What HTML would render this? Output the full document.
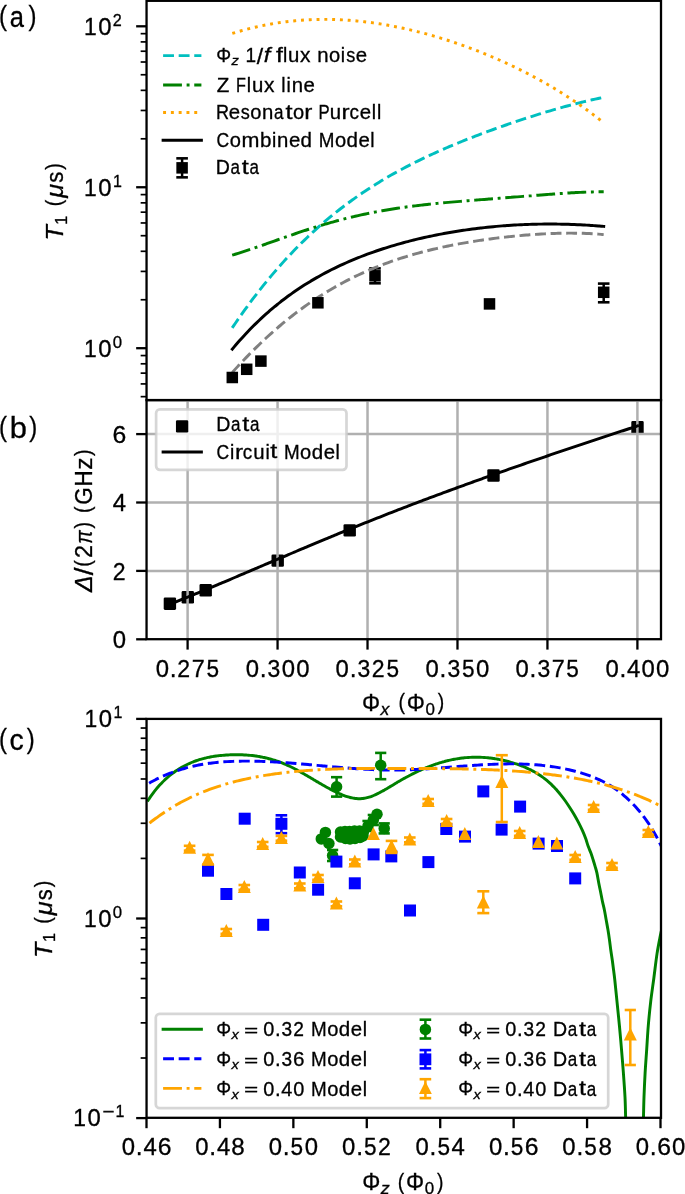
<!DOCTYPE html>
<html><head><meta charset="utf-8"><style>
html,body{margin:0;padding:0;background:#fff;overflow:hidden;}
svg{display:block;}
text{font-family:"Liberation Sans", sans-serif;fill:#000;}
</style></head><body>
<svg width="685" height="1194" viewBox="0 0 685 1194">
<rect width="685" height="1194" fill="#fff"/>
<line x1="375" y1="268.4" x2="375" y2="283.3" stroke="#000" stroke-width="2.5" stroke-linecap="butt"/>
<line x1="369.2" y1="268.4" x2="380.8" y2="268.4" stroke="#000" stroke-width="2.6" stroke-linecap="butt"/>
<line x1="369.2" y1="283.3" x2="380.8" y2="283.3" stroke="#000" stroke-width="2.6" stroke-linecap="butt"/>
<rect x="369.25" y="270.05" width="11.5" height="11.5" fill="#000"/>
<line x1="603.7" y1="283.6" x2="603.7" y2="302.3" stroke="#000" stroke-width="2.5" stroke-linecap="butt"/>
<line x1="597.9" y1="283.6" x2="609.5" y2="283.6" stroke="#000" stroke-width="2.6" stroke-linecap="butt"/>
<line x1="597.9" y1="302.3" x2="609.5" y2="302.3" stroke="#000" stroke-width="2.6" stroke-linecap="butt"/>
<rect x="597.95" y="286.55" width="11.5" height="11.5" fill="#000"/>
<path d="M232.2,327.9 C232.7,327.16 234.2,324.94 235.2,323.48 C236.2,322.02 237.2,320.57 238.2,319.13 C239.2,317.69 240.2,316.27 241.2,314.85 C242.2,313.44 243.2,312.04 244.2,310.65 C245.2,309.26 246.2,307.88 247.2,306.52 C248.2,305.15 249.2,303.8 250.2,302.45 C251.2,301.11 252.2,299.78 253.2,298.46 C254.2,297.14 255.2,295.83 256.2,294.53 C257.2,293.23 258.2,291.95 259.2,290.67 C260.2,289.4 261.2,288.13 262.2,286.88 C263.2,285.63 264.2,284.38 265.2,283.15 C266.2,281.92 267.2,280.7 268.2,279.49 C269.2,278.28 270.2,277.08 271.2,275.89 C272.2,274.7 273.2,273.53 274.2,272.36 C275.2,271.19 276.2,270.03 277.2,268.89 C278.2,267.74 279.2,266.61 280.2,265.48 C281.2,264.35 282.2,263.24 283.2,262.13 C284.2,261.03 285.2,259.93 286.2,258.84 C287.2,257.76 288.2,256.68 289.2,255.62 C290.2,254.55 291.2,253.49 292.2,252.45 C293.2,251.4 294.2,250.36 295.2,249.34 C296.2,248.31 297.2,247.29 298.2,246.28 C299.2,245.27 300.2,244.27 301.2,243.28 C302.2,242.29 303.2,241.31 304.2,240.34 C305.2,239.37 306.2,238.41 307.2,237.45 C308.2,236.5 309.2,235.55 310.2,234.62 C311.2,233.68 312.2,232.75 313.2,231.84 C314.2,230.92 315.2,230.01 316.2,229.1 C317.2,228.2 318.2,227.31 319.2,226.43 C320.2,225.54 321.2,224.66 322.2,223.8 C323.2,222.93 324.2,222.07 325.2,221.22 C326.2,220.36 327.2,219.52 328.2,218.68 C329.2,217.85 330.2,217.02 331.2,216.2 C332.2,215.38 333.2,214.57 334.2,213.76 C335.2,212.95 336.2,212.16 337.2,211.37 C338.2,210.58 339.2,209.79 340.2,209.02 C341.2,208.24 342.2,207.48 343.2,206.71 C344.2,205.95 345.2,205.2 346.2,204.45 C347.2,203.71 348.2,202.97 349.2,202.23 C350.2,201.5 351.2,200.77 352.2,200.06 C353.2,199.34 354.2,198.62 355.2,197.92 C356.2,197.21 357.2,196.51 358.2,195.82 C359.2,195.13 360.2,194.44 361.2,193.76 C362.2,193.08 363.2,192.4 364.2,191.74 C365.2,191.07 366.2,190.41 367.2,189.75 C368.2,189.09 369.2,188.45 370.2,187.8 C371.2,187.16 372.2,186.52 373.2,185.89 C374.2,185.25 375.2,184.63 376.2,184.01 C377.2,183.39 378.2,182.77 379.2,182.16 C380.2,181.55 381.2,180.94 382.2,180.35 C383.2,179.75 384.2,179.15 385.2,178.56 C386.2,177.97 387.2,177.39 388.2,176.81 C389.2,176.23 390.2,175.66 391.2,175.09 C392.2,174.52 393.2,173.96 394.2,173.4 C395.2,172.84 396.2,172.28 397.2,171.73 C398.2,171.18 399.2,170.64 400.2,170.1 C401.2,169.56 402.2,169.02 403.2,168.49 C404.2,167.96 405.2,167.43 406.2,166.91 C407.2,166.38 408.2,165.86 409.2,165.35 C410.2,164.83 411.2,164.32 412.2,163.82 C413.2,163.31 414.2,162.81 415.2,162.31 C416.2,161.81 417.2,161.31 418.2,160.82 C419.2,160.33 420.2,159.84 421.2,159.36 C422.2,158.88 423.2,158.4 424.2,157.92 C425.2,157.44 426.2,156.97 427.2,156.5 C428.2,156.03 429.2,155.56 430.2,155.1 C431.2,154.64 432.2,154.18 433.2,153.72 C434.2,153.27 435.2,152.81 436.2,152.36 C437.2,151.91 438.2,151.46 439.2,151.02 C440.2,150.58 441.2,150.14 442.2,149.7 C443.2,149.26 444.2,148.83 445.2,148.39 C446.2,147.96 447.2,147.53 448.2,147.1 C449.2,146.68 450.2,146.25 451.2,145.83 C452.2,145.41 453.2,144.99 454.2,144.58 C455.2,144.16 456.2,143.75 457.2,143.34 C458.2,142.93 459.2,142.52 460.2,142.11 C461.2,141.71 462.2,141.3 463.2,140.9 C464.2,140.5 465.2,140.1 466.2,139.7 C467.2,139.31 468.2,138.91 469.2,138.52 C470.2,138.13 471.2,137.74 472.2,137.35 C473.2,136.96 474.2,136.58 475.2,136.19 C476.2,135.81 477.2,135.43 478.2,135.05 C479.2,134.67 480.2,134.29 481.2,133.91 C482.2,133.54 483.2,133.16 484.2,132.79 C485.2,132.42 486.2,132.05 487.2,131.68 C488.2,131.32 489.2,130.95 490.2,130.58 C491.2,130.22 492.2,129.86 493.2,129.5 C494.2,129.14 495.2,128.78 496.2,128.42 C497.2,128.06 498.2,127.71 499.2,127.35 C500.2,127 501.2,126.65 502.2,126.3 C503.2,125.95 504.2,125.6 505.2,125.25 C506.2,124.91 507.2,124.56 508.2,124.22 C509.2,123.87 510.2,123.53 511.2,123.19 C512.2,122.85 513.2,122.51 514.2,122.18 C515.2,121.84 516.2,121.5 517.2,121.17 C518.2,120.84 519.2,120.51 520.2,120.18 C521.2,119.85 522.2,119.52 523.2,119.19 C524.2,118.86 525.2,118.54 526.2,118.21 C527.2,117.89 528.2,117.57 529.2,117.25 C530.2,116.93 531.2,116.61 532.2,116.29 C533.2,115.98 534.2,115.66 535.2,115.35 C536.2,115.04 537.2,114.72 538.2,114.41 C539.2,114.1 540.2,113.8 541.2,113.49 C542.2,113.18 543.2,112.88 544.2,112.58 C545.2,112.28 546.2,111.97 547.2,111.68 C548.2,111.38 549.2,111.08 550.2,110.79 C551.2,110.49 552.2,110.2 553.2,109.91 C554.2,109.62 555.2,109.33 556.2,109.04 C557.2,108.76 558.2,108.47 559.2,108.19 C560.2,107.91 561.2,107.63 562.2,107.35 C563.2,107.07 564.2,106.8 565.2,106.52 C566.2,106.25 567.2,105.98 568.2,105.71 C569.2,105.44 570.2,105.18 571.2,104.91 C572.2,104.65 573.2,104.39 574.2,104.13 C575.2,103.87 576.2,103.62 577.2,103.36 C578.2,103.11 579.2,102.86 580.2,102.61 C581.2,102.37 582.2,102.12 583.2,101.88 C584.2,101.64 585.2,101.4 586.2,101.16 C587.2,100.93 588.2,100.7 589.2,100.47 C590.2,100.24 591.2,100.01 592.2,99.79 C593.2,99.57 594.2,99.35 595.2,99.13 C596.2,98.92 597.2,98.71 598.2,98.5 C599.2,98.29 600.27,98.07 601.2,97.89 C602.13,97.7 603.37,97.46 603.8,97.37" fill="none" stroke="#00bfbf" stroke-width="2.94" stroke-dasharray="10.88,4.7" stroke-linecap="butt" stroke-linejoin="round"/>
<path d="M232.2,255.15 C232.7,255.01 234.2,254.56 235.2,254.26 C236.2,253.96 237.2,253.65 238.2,253.34 C239.2,253.03 240.2,252.72 241.2,252.4 C242.2,252.08 243.2,251.76 244.2,251.44 C245.2,251.11 246.2,250.78 247.2,250.45 C248.2,250.12 249.2,249.78 250.2,249.45 C251.2,249.11 252.2,248.77 253.2,248.43 C254.2,248.09 255.2,247.75 256.2,247.4 C257.2,247.06 258.2,246.71 259.2,246.36 C260.2,246.01 261.2,245.66 262.2,245.31 C263.2,244.96 264.2,244.61 265.2,244.26 C266.2,243.91 267.2,243.55 268.2,243.2 C269.2,242.85 270.2,242.49 271.2,242.14 C272.2,241.78 273.2,241.43 274.2,241.07 C275.2,240.72 276.2,240.37 277.2,240.01 C278.2,239.66 279.2,239.31 280.2,238.95 C281.2,238.6 282.2,238.25 283.2,237.9 C284.2,237.55 285.2,237.2 286.2,236.85 C287.2,236.5 288.2,236.15 289.2,235.8 C290.2,235.46 291.2,235.11 292.2,234.77 C293.2,234.42 294.2,234.08 295.2,233.74 C296.2,233.4 297.2,233.06 298.2,232.72 C299.2,232.39 300.2,232.05 301.2,231.72 C302.2,231.38 303.2,231.05 304.2,230.72 C305.2,230.39 306.2,230.07 307.2,229.74 C308.2,229.42 309.2,229.09 310.2,228.77 C311.2,228.45 312.2,228.13 313.2,227.82 C314.2,227.5 315.2,227.19 316.2,226.88 C317.2,226.57 318.2,226.26 319.2,225.96 C320.2,225.65 321.2,225.35 322.2,225.05 C323.2,224.75 324.2,224.46 325.2,224.16 C326.2,223.87 327.2,223.58 328.2,223.29 C329.2,223 330.2,222.72 331.2,222.44 C332.2,222.15 333.2,221.87 334.2,221.6 C335.2,221.32 336.2,221.05 337.2,220.78 C338.2,220.51 339.2,220.24 340.2,219.98 C341.2,219.72 342.2,219.46 343.2,219.2 C344.2,218.94 345.2,218.69 346.2,218.44 C347.2,218.19 348.2,217.94 349.2,217.69 C350.2,217.45 351.2,217.21 352.2,216.97 C353.2,216.73 354.2,216.5 355.2,216.26 C356.2,216.03 357.2,215.8 358.2,215.58 C359.2,215.35 360.2,215.13 361.2,214.91 C362.2,214.69 363.2,214.47 364.2,214.26 C365.2,214.05 366.2,213.84 367.2,213.63 C368.2,213.42 369.2,213.22 370.2,213.02 C371.2,212.82 372.2,212.62 373.2,212.43 C374.2,212.23 375.2,212.04 376.2,211.85 C377.2,211.66 378.2,211.48 379.2,211.29 C380.2,211.11 381.2,210.93 382.2,210.75 C383.2,210.58 384.2,210.4 385.2,210.23 C386.2,210.06 387.2,209.89 388.2,209.72 C389.2,209.56 390.2,209.39 391.2,209.23 C392.2,209.07 393.2,208.91 394.2,208.76 C395.2,208.6 396.2,208.45 397.2,208.3 C398.2,208.15 399.2,208 400.2,207.85 C401.2,207.71 402.2,207.57 403.2,207.42 C404.2,207.28 405.2,207.15 406.2,207.01 C407.2,206.87 408.2,206.74 409.2,206.61 C410.2,206.48 411.2,206.35 412.2,206.22 C413.2,206.09 414.2,205.97 415.2,205.84 C416.2,205.72 417.2,205.6 418.2,205.48 C419.2,205.36 420.2,205.24 421.2,205.13 C422.2,205.01 423.2,204.9 424.2,204.78 C425.2,204.67 426.2,204.56 427.2,204.45 C428.2,204.34 429.2,204.24 430.2,204.13 C431.2,204.03 432.2,203.92 433.2,203.82 C434.2,203.72 435.2,203.61 436.2,203.52 C437.2,203.42 438.2,203.32 439.2,203.22 C440.2,203.12 441.2,203.03 442.2,202.93 C443.2,202.84 444.2,202.74 445.2,202.65 C446.2,202.56 447.2,202.47 448.2,202.38 C449.2,202.29 450.2,202.2 451.2,202.11 C452.2,202.02 453.2,201.93 454.2,201.85 C455.2,201.76 456.2,201.67 457.2,201.59 C458.2,201.5 459.2,201.42 460.2,201.34 C461.2,201.25 462.2,201.17 463.2,201.09 C464.2,201 465.2,200.92 466.2,200.84 C467.2,200.76 468.2,200.68 469.2,200.6 C470.2,200.52 471.2,200.44 472.2,200.36 C473.2,200.28 474.2,200.2 475.2,200.12 C476.2,200.04 477.2,199.96 478.2,199.88 C479.2,199.8 480.2,199.73 481.2,199.65 C482.2,199.57 483.2,199.49 484.2,199.41 C485.2,199.34 486.2,199.26 487.2,199.18 C488.2,199.1 489.2,199.03 490.2,198.95 C491.2,198.87 492.2,198.79 493.2,198.72 C494.2,198.64 495.2,198.56 496.2,198.49 C497.2,198.41 498.2,198.33 499.2,198.25 C500.2,198.18 501.2,198.1 502.2,198.02 C503.2,197.94 504.2,197.86 505.2,197.79 C506.2,197.71 507.2,197.63 508.2,197.55 C509.2,197.48 510.2,197.4 511.2,197.32 C512.2,197.24 513.2,197.16 514.2,197.08 C515.2,197.01 516.2,196.93 517.2,196.85 C518.2,196.77 519.2,196.69 520.2,196.61 C521.2,196.53 522.2,196.45 523.2,196.38 C524.2,196.3 525.2,196.22 526.2,196.14 C527.2,196.06 528.2,195.98 529.2,195.9 C530.2,195.82 531.2,195.74 532.2,195.66 C533.2,195.59 534.2,195.51 535.2,195.43 C536.2,195.35 537.2,195.27 538.2,195.19 C539.2,195.12 540.2,195.04 541.2,194.96 C542.2,194.88 543.2,194.8 544.2,194.73 C545.2,194.65 546.2,194.57 547.2,194.5 C548.2,194.42 549.2,194.35 550.2,194.27 C551.2,194.2 552.2,194.12 553.2,194.05 C554.2,193.98 555.2,193.9 556.2,193.83 C557.2,193.76 558.2,193.69 559.2,193.62 C560.2,193.55 561.2,193.48 562.2,193.41 C563.2,193.34 564.2,193.28 565.2,193.21 C566.2,193.14 567.2,193.08 568.2,193.02 C569.2,192.96 570.2,192.89 571.2,192.83 C572.2,192.78 573.2,192.72 574.2,192.66 C575.2,192.61 576.2,192.55 577.2,192.5 C578.2,192.45 579.2,192.4 580.2,192.35 C581.2,192.3 582.2,192.26 583.2,192.22 C584.2,192.17 585.2,192.13 586.2,192.1 C587.2,192.06 588.2,192.03 589.2,191.99 C590.2,191.96 591.2,191.94 592.2,191.91 C593.2,191.89 594.2,191.87 595.2,191.85 C596.2,191.83 597.2,191.82 598.2,191.81 C599.2,191.8 600.28,191.79 601.2,191.79 C602.12,191.79 603.28,191.79 603.7,191.79" fill="none" stroke="#008000" stroke-width="2.94" stroke-dasharray="18.82,4.7,2.94,4.7" stroke-linecap="butt" stroke-linejoin="round"/>
<path d="M232.3,33.44 C232.8,33.29 234.3,32.82 235.3,32.52 C236.3,32.22 237.3,31.93 238.3,31.63 C239.3,31.34 240.3,31.06 241.3,30.78 C242.3,30.5 243.3,30.22 244.3,29.95 C245.3,29.68 246.3,29.42 247.3,29.16 C248.3,28.9 249.3,28.65 250.3,28.4 C251.3,28.15 252.3,27.91 253.3,27.67 C254.3,27.43 255.3,27.2 256.3,26.97 C257.3,26.74 258.3,26.52 259.3,26.3 C260.3,26.09 261.3,25.87 262.3,25.67 C263.3,25.46 264.3,25.26 265.3,25.06 C266.3,24.87 267.3,24.68 268.3,24.49 C269.3,24.31 270.3,24.13 271.3,23.95 C272.3,23.77 273.3,23.6 274.3,23.44 C275.3,23.27 276.3,23.12 277.3,22.96 C278.3,22.81 279.3,22.66 280.3,22.51 C281.3,22.37 282.3,22.23 283.3,22.09 C284.3,21.96 285.3,21.83 286.3,21.71 C287.3,21.58 288.3,21.46 289.3,21.35 C290.3,21.24 291.3,21.13 292.3,21.02 C293.3,20.92 294.3,20.82 295.3,20.73 C296.3,20.63 297.3,20.54 298.3,20.46 C299.3,20.38 300.3,20.3 301.3,20.22 C302.3,20.15 303.3,20.08 304.3,20.02 C305.3,19.95 306.3,19.89 307.3,19.84 C308.3,19.78 309.3,19.73 310.3,19.69 C311.3,19.65 312.3,19.61 313.3,19.57 C314.3,19.53 315.3,19.5 316.3,19.48 C317.3,19.45 318.3,19.43 319.3,19.42 C320.3,19.4 321.3,19.39 322.3,19.38 C323.3,19.38 324.3,19.37 325.3,19.38 C326.3,19.38 327.3,19.39 328.3,19.4 C329.3,19.41 330.3,19.43 331.3,19.45 C332.3,19.47 333.3,19.49 334.3,19.52 C335.3,19.55 336.3,19.59 337.3,19.63 C338.3,19.67 339.3,19.71 340.3,19.76 C341.3,19.8 342.3,19.86 343.3,19.91 C344.3,19.97 345.3,20.03 346.3,20.1 C347.3,20.16 348.3,20.23 349.3,20.31 C350.3,20.38 351.3,20.46 352.3,20.54 C353.3,20.63 354.3,20.71 355.3,20.8 C356.3,20.9 357.3,20.99 358.3,21.09 C359.3,21.19 360.3,21.3 361.3,21.4 C362.3,21.51 363.3,21.62 364.3,21.74 C365.3,21.86 366.3,21.98 367.3,22.1 C368.3,22.23 369.3,22.36 370.3,22.49 C371.3,22.62 372.3,22.76 373.3,22.9 C374.3,23.04 375.3,23.19 376.3,23.34 C377.3,23.48 378.3,23.64 379.3,23.79 C380.3,23.95 381.3,24.11 382.3,24.28 C383.3,24.44 384.3,24.61 385.3,24.78 C386.3,24.96 387.3,25.13 388.3,25.31 C389.3,25.49 390.3,25.68 391.3,25.86 C392.3,26.05 393.3,26.24 394.3,26.44 C395.3,26.63 396.3,26.83 397.3,27.04 C398.3,27.24 399.3,27.45 400.3,27.66 C401.3,27.87 402.3,28.08 403.3,28.3 C404.3,28.52 405.3,28.74 406.3,28.96 C407.3,29.19 408.3,29.42 409.3,29.65 C410.3,29.88 411.3,30.12 412.3,30.36 C413.3,30.6 414.3,30.84 415.3,31.09 C416.3,31.33 417.3,31.59 418.3,31.84 C419.3,32.09 420.3,32.35 421.3,32.61 C422.3,32.87 423.3,33.14 424.3,33.41 C425.3,33.67 426.3,33.95 427.3,34.22 C428.3,34.5 429.3,34.77 430.3,35.06 C431.3,35.34 432.3,35.62 433.3,35.91 C434.3,36.2 435.3,36.49 436.3,36.79 C437.3,37.09 438.3,37.39 439.3,37.69 C440.3,37.99 441.3,38.3 442.3,38.61 C443.3,38.92 444.3,39.23 445.3,39.55 C446.3,39.86 447.3,40.18 448.3,40.51 C449.3,40.83 450.3,41.16 451.3,41.49 C452.3,41.82 453.3,42.15 454.3,42.49 C455.3,42.82 456.3,43.17 457.3,43.51 C458.3,43.85 459.3,44.2 460.3,44.55 C461.3,44.9 462.3,45.26 463.3,45.61 C464.3,45.97 465.3,46.33 466.3,46.7 C467.3,47.06 468.3,47.43 469.3,47.8 C470.3,48.17 471.3,48.55 472.3,48.92 C473.3,49.3 474.3,49.68 475.3,50.07 C476.3,50.45 477.3,50.84 478.3,51.24 C479.3,51.63 480.3,52.02 481.3,52.42 C482.3,52.82 483.3,53.22 484.3,53.63 C485.3,54.04 486.3,54.45 487.3,54.86 C488.3,55.27 489.3,55.69 490.3,56.11 C491.3,56.53 492.3,56.96 493.3,57.38 C494.3,57.81 495.3,58.24 496.3,58.68 C497.3,59.11 498.3,59.55 499.3,59.99 C500.3,60.44 501.3,60.88 502.3,61.33 C503.3,61.78 504.3,62.24 505.3,62.69 C506.3,63.15 507.3,63.61 508.3,64.08 C509.3,64.54 510.3,65.01 511.3,65.48 C512.3,65.96 513.3,66.43 514.3,66.92 C515.3,67.4 516.3,67.88 517.3,68.37 C518.3,68.86 519.3,69.35 520.3,69.85 C521.3,70.34 522.3,70.85 523.3,71.35 C524.3,71.86 525.3,72.36 526.3,72.88 C527.3,73.39 528.3,73.91 529.3,74.43 C530.3,74.95 531.3,75.48 532.3,76.01 C533.3,76.54 534.3,77.08 535.3,77.62 C536.3,78.16 537.3,78.7 538.3,79.25 C539.3,79.8 540.3,80.35 541.3,80.91 C542.3,81.46 543.3,82.03 544.3,82.59 C545.3,83.16 546.3,83.73 547.3,84.31 C548.3,84.89 549.3,85.47 550.3,86.05 C551.3,86.64 552.3,87.23 553.3,87.83 C554.3,88.42 555.3,89.03 556.3,89.63 C557.3,90.24 558.3,90.85 559.3,91.47 C560.3,92.08 561.3,92.71 562.3,93.33 C563.3,93.96 564.3,94.59 565.3,95.23 C566.3,95.87 567.3,96.52 568.3,97.17 C569.3,97.82 570.3,98.47 571.3,99.13 C572.3,99.79 573.3,100.46 574.3,101.13 C575.3,101.81 576.3,102.48 577.3,103.17 C578.3,103.85 579.3,104.54 580.3,105.24 C581.3,105.94 582.3,106.64 583.3,107.35 C584.3,108.06 585.3,108.78 586.3,109.5 C587.3,110.22 588.3,110.95 589.3,111.69 C590.3,112.42 591.3,113.16 592.3,113.91 C593.3,114.66 594.3,115.42 595.3,116.18 C596.3,116.95 597.3,117.72 598.3,118.49 C599.3,119.27 600.4,120.14 601.3,120.85 C602.2,121.56 603.3,122.44 603.7,122.76" fill="none" stroke="#ffa500" stroke-width="2.94" stroke-dasharray="2.94,4.85" stroke-linecap="butt" stroke-linejoin="round"/>
<path d="M232.3,349.08 C232.8,348.49 234.3,346.69 235.3,345.52 C236.3,344.35 237.3,343.2 238.3,342.06 C239.3,340.92 240.3,339.79 241.3,338.68 C242.3,337.57 243.3,336.48 244.3,335.4 C245.3,334.32 246.3,333.25 247.3,332.2 C248.3,331.15 249.3,330.11 250.3,329.08 C251.3,328.06 252.3,327.05 253.3,326.05 C254.3,325.05 255.3,324.07 256.3,323.1 C257.3,322.13 258.3,321.17 259.3,320.22 C260.3,319.27 261.3,318.34 262.3,317.42 C263.3,316.5 264.3,315.59 265.3,314.69 C266.3,313.8 267.3,312.91 268.3,312.04 C269.3,311.17 270.3,310.3 271.3,309.45 C272.3,308.6 273.3,307.76 274.3,306.94 C275.3,306.11 276.3,305.29 277.3,304.49 C278.3,303.68 279.3,302.88 280.3,302.1 C281.3,301.31 282.3,300.54 283.3,299.77 C284.3,299.01 285.3,298.25 286.3,297.51 C287.3,296.76 288.3,296.03 289.3,295.3 C290.3,294.58 291.3,293.86 292.3,293.16 C293.3,292.45 294.3,291.75 295.3,291.07 C296.3,290.38 297.3,289.7 298.3,289.03 C299.3,288.36 300.3,287.7 301.3,287.04 C302.3,286.39 303.3,285.75 304.3,285.11 C305.3,284.48 306.3,283.85 307.3,283.23 C308.3,282.61 309.3,282 310.3,281.4 C311.3,280.79 312.3,280.2 313.3,279.61 C314.3,279.02 315.3,278.44 316.3,277.87 C317.3,277.3 318.3,276.73 319.3,276.17 C320.3,275.61 321.3,275.06 322.3,274.52 C323.3,273.98 324.3,273.44 325.3,272.91 C326.3,272.38 327.3,271.86 328.3,271.34 C329.3,270.82 330.3,270.31 331.3,269.81 C332.3,269.31 333.3,268.81 334.3,268.32 C335.3,267.83 336.3,267.35 337.3,266.87 C338.3,266.39 339.3,265.92 340.3,265.45 C341.3,264.99 342.3,264.53 343.3,264.07 C344.3,263.62 345.3,263.17 346.3,262.73 C347.3,262.29 348.3,261.85 349.3,261.42 C350.3,260.99 351.3,260.56 352.3,260.14 C353.3,259.72 354.3,259.3 355.3,258.89 C356.3,258.48 357.3,258.08 358.3,257.68 C359.3,257.28 360.3,256.88 361.3,256.5 C362.3,256.11 363.3,255.72 364.3,255.34 C365.3,254.96 366.3,254.59 367.3,254.22 C368.3,253.85 369.3,253.48 370.3,253.12 C371.3,252.76 372.3,252.4 373.3,252.05 C374.3,251.7 375.3,251.35 376.3,251.01 C377.3,250.67 378.3,250.33 379.3,249.99 C380.3,249.66 381.3,249.33 382.3,249 C383.3,248.68 384.3,248.36 385.3,248.04 C386.3,247.72 387.3,247.41 388.3,247.1 C389.3,246.79 390.3,246.48 391.3,246.18 C392.3,245.88 393.3,245.58 394.3,245.29 C395.3,244.99 396.3,244.7 397.3,244.42 C398.3,244.13 399.3,243.85 400.3,243.57 C401.3,243.29 402.3,243.01 403.3,242.74 C404.3,242.47 405.3,242.2 406.3,241.94 C407.3,241.67 408.3,241.41 409.3,241.16 C410.3,240.9 411.3,240.64 412.3,240.39 C413.3,240.14 414.3,239.9 415.3,239.65 C416.3,239.41 417.3,239.17 418.3,238.93 C419.3,238.69 420.3,238.46 421.3,238.23 C422.3,238 423.3,237.77 424.3,237.54 C425.3,237.32 426.3,237.1 427.3,236.88 C428.3,236.66 429.3,236.45 430.3,236.24 C431.3,236.02 432.3,235.82 433.3,235.61 C434.3,235.4 435.3,235.2 436.3,235 C437.3,234.8 438.3,234.6 439.3,234.41 C440.3,234.22 441.3,234.03 442.3,233.84 C443.3,233.65 444.3,233.47 445.3,233.28 C446.3,233.1 447.3,232.92 448.3,232.75 C449.3,232.57 450.3,232.4 451.3,232.23 C452.3,232.06 453.3,231.89 454.3,231.72 C455.3,231.56 456.3,231.4 457.3,231.24 C458.3,231.08 459.3,230.92 460.3,230.77 C461.3,230.61 462.3,230.46 463.3,230.31 C464.3,230.17 465.3,230.02 466.3,229.88 C467.3,229.74 468.3,229.6 469.3,229.46 C470.3,229.32 471.3,229.19 472.3,229.05 C473.3,228.92 474.3,228.79 475.3,228.67 C476.3,228.54 477.3,228.42 478.3,228.3 C479.3,228.17 480.3,228.06 481.3,227.94 C482.3,227.82 483.3,227.71 484.3,227.6 C485.3,227.49 486.3,227.38 487.3,227.28 C488.3,227.17 489.3,227.07 490.3,226.97 C491.3,226.87 492.3,226.77 493.3,226.68 C494.3,226.58 495.3,226.49 496.3,226.4 C497.3,226.31 498.3,226.22 499.3,226.14 C500.3,226.05 501.3,225.97 502.3,225.89 C503.3,225.81 504.3,225.74 505.3,225.66 C506.3,225.59 507.3,225.52 508.3,225.45 C509.3,225.38 510.3,225.31 511.3,225.25 C512.3,225.18 513.3,225.12 514.3,225.06 C515.3,225.01 516.3,224.95 517.3,224.9 C518.3,224.84 519.3,224.79 520.3,224.74 C521.3,224.69 522.3,224.65 523.3,224.6 C524.3,224.56 525.3,224.52 526.3,224.48 C527.3,224.44 528.3,224.41 529.3,224.37 C530.3,224.34 531.3,224.31 532.3,224.28 C533.3,224.25 534.3,224.23 535.3,224.2 C536.3,224.18 537.3,224.16 538.3,224.14 C539.3,224.12 540.3,224.11 541.3,224.1 C542.3,224.08 543.3,224.07 544.3,224.06 C545.3,224.06 546.3,224.05 547.3,224.05 C548.3,224.04 549.3,224.04 550.3,224.04 C551.3,224.05 552.3,224.05 553.3,224.06 C554.3,224.06 555.3,224.07 556.3,224.08 C557.3,224.1 558.3,224.11 559.3,224.13 C560.3,224.14 561.3,224.16 562.3,224.18 C563.3,224.2 564.3,224.23 565.3,224.25 C566.3,224.28 567.3,224.31 568.3,224.34 C569.3,224.37 570.3,224.4 571.3,224.44 C572.3,224.47 573.3,224.51 574.3,224.55 C575.3,224.59 576.3,224.63 577.3,224.68 C578.3,224.72 579.3,224.77 580.3,224.82 C581.3,224.87 582.3,224.92 583.3,224.97 C584.3,225.03 585.3,225.08 586.3,225.14 C587.3,225.2 588.3,225.26 589.3,225.32 C590.3,225.39 591.3,225.45 592.3,225.52 C593.3,225.59 594.3,225.66 595.3,225.73 C596.3,225.8 597.3,225.87 598.3,225.95 C599.3,226.02 600.4,226.11 601.3,226.18 C602.2,226.25 603.3,226.34 603.7,226.38" fill="none" stroke="#000" stroke-width="2.94" stroke-linecap="square" stroke-linejoin="round"/>
<path d="M232.3,372.44 C232.8,371.89 234.3,370.22 235.3,369.13 C236.3,368.03 237.3,366.95 238.3,365.87 C239.3,364.79 240.3,363.72 241.3,362.66 C242.3,361.59 243.3,360.54 244.3,359.5 C245.3,358.45 246.3,357.41 247.3,356.39 C248.3,355.36 249.3,354.34 250.3,353.33 C251.3,352.31 252.3,351.31 253.3,350.32 C254.3,349.32 255.3,348.34 256.3,347.36 C257.3,346.38 258.3,345.41 259.3,344.45 C260.3,343.49 261.3,342.54 262.3,341.59 C263.3,340.65 264.3,339.71 265.3,338.79 C266.3,337.86 267.3,336.94 268.3,336.03 C269.3,335.12 270.3,334.22 271.3,333.32 C272.3,332.43 273.3,331.54 274.3,330.66 C275.3,329.79 276.3,328.92 277.3,328.06 C278.3,327.2 279.3,326.34 280.3,325.5 C281.3,324.65 282.3,323.82 283.3,322.99 C284.3,322.16 285.3,321.34 286.3,320.53 C287.3,319.71 288.3,318.91 289.3,318.11 C290.3,317.32 291.3,316.53 292.3,315.75 C293.3,314.97 294.3,314.2 295.3,313.43 C296.3,312.67 297.3,311.91 298.3,311.16 C299.3,310.41 300.3,309.67 301.3,308.94 C302.3,308.21 303.3,307.48 304.3,306.76 C305.3,306.05 306.3,305.34 307.3,304.63 C308.3,303.93 309.3,303.24 310.3,302.55 C311.3,301.86 312.3,301.18 313.3,300.51 C314.3,299.84 315.3,299.17 316.3,298.51 C317.3,297.86 318.3,297.21 319.3,296.56 C320.3,295.92 321.3,295.28 322.3,294.66 C323.3,294.03 324.3,293.41 325.3,292.79 C326.3,292.18 327.3,291.57 328.3,290.97 C329.3,290.37 330.3,289.78 331.3,289.19 C332.3,288.6 333.3,288.02 334.3,287.45 C335.3,286.88 336.3,286.31 337.3,285.75 C338.3,285.19 339.3,284.64 340.3,284.1 C341.3,283.55 342.3,283.01 343.3,282.48 C344.3,281.95 345.3,281.42 346.3,280.9 C347.3,280.38 348.3,279.87 349.3,279.36 C350.3,278.85 351.3,278.35 352.3,277.86 C353.3,277.36 354.3,276.88 355.3,276.39 C356.3,275.91 357.3,275.43 358.3,274.96 C359.3,274.49 360.3,274.03 361.3,273.57 C362.3,273.11 363.3,272.66 364.3,272.22 C365.3,271.77 366.3,271.33 367.3,270.89 C368.3,270.46 369.3,270.03 370.3,269.6 C371.3,269.18 372.3,268.76 373.3,268.35 C374.3,267.94 375.3,267.53 376.3,267.13 C377.3,266.72 378.3,266.33 379.3,265.94 C380.3,265.55 381.3,265.16 382.3,264.78 C383.3,264.4 384.3,264.02 385.3,263.65 C386.3,263.28 387.3,262.91 388.3,262.55 C389.3,262.19 390.3,261.83 391.3,261.48 C392.3,261.13 393.3,260.79 394.3,260.44 C395.3,260.1 396.3,259.77 397.3,259.43 C398.3,259.1 399.3,258.77 400.3,258.45 C401.3,258.13 402.3,257.81 403.3,257.49 C404.3,257.18 405.3,256.87 406.3,256.56 C407.3,256.26 408.3,255.95 409.3,255.66 C410.3,255.36 411.3,255.07 412.3,254.78 C413.3,254.49 414.3,254.2 415.3,253.92 C416.3,253.64 417.3,253.36 418.3,253.09 C419.3,252.82 420.3,252.55 421.3,252.28 C422.3,252.02 423.3,251.75 424.3,251.5 C425.3,251.24 426.3,250.98 427.3,250.73 C428.3,250.48 429.3,250.23 430.3,249.99 C431.3,249.75 432.3,249.51 433.3,249.27 C434.3,249.03 435.3,248.8 436.3,248.57 C437.3,248.34 438.3,248.11 439.3,247.89 C440.3,247.66 441.3,247.44 442.3,247.23 C443.3,247.01 444.3,246.8 445.3,246.58 C446.3,246.37 447.3,246.17 448.3,245.96 C449.3,245.76 450.3,245.55 451.3,245.35 C452.3,245.16 453.3,244.96 454.3,244.77 C455.3,244.57 456.3,244.38 457.3,244.19 C458.3,244.01 459.3,243.82 460.3,243.64 C461.3,243.46 462.3,243.28 463.3,243.1 C464.3,242.92 465.3,242.75 466.3,242.58 C467.3,242.41 468.3,242.24 469.3,242.07 C470.3,241.91 471.3,241.74 472.3,241.58 C473.3,241.42 474.3,241.26 475.3,241.1 C476.3,240.95 477.3,240.79 478.3,240.64 C479.3,240.49 480.3,240.34 481.3,240.19 C482.3,240.05 483.3,239.9 484.3,239.76 C485.3,239.62 486.3,239.48 487.3,239.34 C488.3,239.2 489.3,239.06 490.3,238.93 C491.3,238.8 492.3,238.67 493.3,238.54 C494.3,238.41 495.3,238.28 496.3,238.16 C497.3,238.03 498.3,237.91 499.3,237.79 C500.3,237.67 501.3,237.55 502.3,237.44 C503.3,237.32 504.3,237.21 505.3,237.1 C506.3,236.99 507.3,236.88 508.3,236.77 C509.3,236.66 510.3,236.56 511.3,236.45 C512.3,236.35 513.3,236.25 514.3,236.15 C515.3,236.05 516.3,235.96 517.3,235.86 C518.3,235.77 519.3,235.68 520.3,235.59 C521.3,235.5 522.3,235.41 523.3,235.32 C524.3,235.24 525.3,235.16 526.3,235.08 C527.3,234.99 528.3,234.92 529.3,234.84 C530.3,234.76 531.3,234.69 532.3,234.62 C533.3,234.55 534.3,234.48 535.3,234.41 C536.3,234.34 537.3,234.28 538.3,234.22 C539.3,234.15 540.3,234.09 541.3,234.04 C542.3,233.98 543.3,233.92 544.3,233.87 C545.3,233.82 546.3,233.77 547.3,233.72 C548.3,233.68 549.3,233.63 550.3,233.59 C551.3,233.55 552.3,233.51 553.3,233.47 C554.3,233.44 555.3,233.4 556.3,233.37 C557.3,233.34 558.3,233.32 559.3,233.29 C560.3,233.27 561.3,233.25 562.3,233.23 C563.3,233.21 564.3,233.19 565.3,233.18 C566.3,233.17 567.3,233.16 568.3,233.15 C569.3,233.15 570.3,233.15 571.3,233.15 C572.3,233.15 573.3,233.15 574.3,233.16 C575.3,233.17 576.3,233.18 577.3,233.2 C578.3,233.21 579.3,233.23 580.3,233.25 C581.3,233.28 582.3,233.3 583.3,233.34 C584.3,233.37 585.3,233.4 586.3,233.44 C587.3,233.48 588.3,233.52 589.3,233.57 C590.3,233.62 591.3,233.67 592.3,233.73 C593.3,233.79 594.3,233.85 595.3,233.91 C596.3,233.98 597.3,234.05 598.3,234.13 C599.3,234.2 600.4,234.29 601.3,234.37 C602.2,234.45 603.3,234.55 603.7,234.59" fill="none" stroke="#808080" stroke-width="2.94" stroke-dasharray="10.88,4.7" stroke-linecap="butt" stroke-linejoin="round"/>
<rect x="226.55" y="371.75" width="11.5" height="11.5" fill="#000"/>
<rect x="240.95" y="363.55" width="11.5" height="11.5" fill="#000"/>
<rect x="255.15" y="355.35" width="11.5" height="11.5" fill="#000"/>
<rect x="312.15" y="297.05" width="11.5" height="11.5" fill="#000"/>
<rect x="483.75" y="298.15" width="11.5" height="11.5" fill="#000"/>
<line x1="140.65" y1="396.65" x2="146.55" y2="396.65" stroke="#000" stroke-width="1.7" stroke-linecap="butt"/>
<line x1="140.65" y1="383.91" x2="146.55" y2="383.91" stroke="#000" stroke-width="1.7" stroke-linecap="butt"/>
<line x1="140.65" y1="373.13" x2="146.55" y2="373.13" stroke="#000" stroke-width="1.7" stroke-linecap="butt"/>
<line x1="140.65" y1="363.8" x2="146.55" y2="363.8" stroke="#000" stroke-width="1.7" stroke-linecap="butt"/>
<line x1="140.65" y1="355.56" x2="146.55" y2="355.56" stroke="#000" stroke-width="1.7" stroke-linecap="butt"/>
<line x1="136.15" y1="348.2" x2="146.55" y2="348.2" stroke="#000" stroke-width="2.3" stroke-linecap="butt"/>
<line x1="140.65" y1="299.75" x2="146.55" y2="299.75" stroke="#000" stroke-width="1.7" stroke-linecap="butt"/>
<line x1="140.65" y1="271.41" x2="146.55" y2="271.41" stroke="#000" stroke-width="1.7" stroke-linecap="butt"/>
<line x1="140.65" y1="251.3" x2="146.55" y2="251.3" stroke="#000" stroke-width="1.7" stroke-linecap="butt"/>
<line x1="140.65" y1="235.7" x2="146.55" y2="235.7" stroke="#000" stroke-width="1.7" stroke-linecap="butt"/>
<line x1="140.65" y1="222.96" x2="146.55" y2="222.96" stroke="#000" stroke-width="1.7" stroke-linecap="butt"/>
<line x1="140.65" y1="212.18" x2="146.55" y2="212.18" stroke="#000" stroke-width="1.7" stroke-linecap="butt"/>
<line x1="140.65" y1="202.85" x2="146.55" y2="202.85" stroke="#000" stroke-width="1.7" stroke-linecap="butt"/>
<line x1="140.65" y1="194.61" x2="146.55" y2="194.61" stroke="#000" stroke-width="1.7" stroke-linecap="butt"/>
<line x1="136.15" y1="187.25" x2="146.55" y2="187.25" stroke="#000" stroke-width="2.3" stroke-linecap="butt"/>
<line x1="140.65" y1="138.8" x2="146.55" y2="138.8" stroke="#000" stroke-width="1.7" stroke-linecap="butt"/>
<line x1="140.65" y1="110.46" x2="146.55" y2="110.46" stroke="#000" stroke-width="1.7" stroke-linecap="butt"/>
<line x1="140.65" y1="90.35" x2="146.55" y2="90.35" stroke="#000" stroke-width="1.7" stroke-linecap="butt"/>
<line x1="140.65" y1="74.75" x2="146.55" y2="74.75" stroke="#000" stroke-width="1.7" stroke-linecap="butt"/>
<line x1="140.65" y1="62.01" x2="146.55" y2="62.01" stroke="#000" stroke-width="1.7" stroke-linecap="butt"/>
<line x1="140.65" y1="51.23" x2="146.55" y2="51.23" stroke="#000" stroke-width="1.7" stroke-linecap="butt"/>
<line x1="140.65" y1="41.9" x2="146.55" y2="41.9" stroke="#000" stroke-width="1.7" stroke-linecap="butt"/>
<line x1="140.65" y1="33.66" x2="146.55" y2="33.66" stroke="#000" stroke-width="1.7" stroke-linecap="butt"/>
<line x1="136.15" y1="26.3" x2="146.55" y2="26.3" stroke="#000" stroke-width="2.3" stroke-linecap="butt"/>
<rect x="146.55" y="0.8" width="514.45" height="399.3" fill="none" stroke="#000" stroke-width="2.3"/>
<g transform="translate(121.50,356.60)" stroke="#000" stroke-width="0.3" style="filter:grayscale(1)"><text transform="translate(-37.47,0.00) scale(1.0068,1.0596)" font-size="22.70">1</text><text transform="translate(-23.19,0.08) scale(1.0541,1.0683)" font-size="22.70">0</text><text transform="translate(-8.66,-8.75) scale(1.0541,1.0683)" font-size="15.89">0</text></g>
<g transform="translate(121.00,195.65)" stroke="#000" stroke-width="0.3" style="filter:grayscale(1)"><text transform="translate(-37.06,0.00) scale(1.0068,1.0596)" font-size="22.70">1</text><text transform="translate(-22.78,0.08) scale(1.0541,1.0683)" font-size="22.70">0</text><text transform="translate(-8.12,-8.80) scale(1.0068,1.0596)" font-size="15.89">1</text></g>
<g transform="translate(121.00,34.70)" stroke="#000" stroke-width="0.3" style="filter:grayscale(1)"><text transform="translate(-36.93,0.00) scale(1.0068,1.0596)" font-size="22.70">1</text><text transform="translate(-22.65,0.08) scale(1.0541,1.0683)" font-size="22.70">0</text><text transform="translate(-8.17,-8.80) scale(1.0161,1.0629)" font-size="15.89">2</text></g>
<line x1="163.1" y1="55.6" x2="201.4" y2="55.6" stroke="#00bfbf" stroke-width="2.94" stroke-linecap="butt" stroke-dasharray="10.88,4.7"/>
<line x1="163.1" y1="85.05" x2="201.4" y2="85.05" stroke="#008000" stroke-width="2.94" stroke-linecap="butt" stroke-dasharray="18.82,4.7,2.94,4.7"/>
<line x1="163.1" y1="112.5" x2="201.4" y2="112.5" stroke="#ffa500" stroke-width="2.94" stroke-linecap="butt" stroke-dasharray="2.94,4.85"/>
<line x1="163.1" y1="140.2" x2="201.4" y2="140.2" stroke="#000" stroke-width="2.94" stroke-linecap="square"/>
<line x1="182.1" y1="158.35" x2="182.1" y2="177.35" stroke="#000" stroke-width="2.5" stroke-linecap="butt"/>
<line x1="176.3" y1="158.35" x2="187.9" y2="158.35" stroke="#000" stroke-width="2.6" stroke-linecap="butt"/>
<line x1="176.3" y1="177.35" x2="187.9" y2="177.35" stroke="#000" stroke-width="2.6" stroke-linecap="butt"/>
<rect x="176.35" y="162.1" width="11.5" height="11.5" fill="#000"/>
<g transform="translate(217.40,62.20)" stroke="#000" stroke-width="0.3" style="filter:grayscale(1)"><text transform="translate(-1.07,-0.11) scale(0.9864,1.0441)" font-size="18.90">Φ</text><text transform="translate(14.02,3.12) scale(1.1091,1.0351)" font-size="13.23" font-style="italic">z</text><text transform="translate(28.06,0.00) scale(1.0068,1.0596)" font-size="18.90">1</text><text transform="translate(39.44,1.55) scale(1.2127,1.1190)" font-size="18.90">/</text><text transform="translate(46.29,0.00) scale(1.2408,1.0485)" font-size="18.90" font-style="italic">f</text><text transform="translate(58.53,-0.00) scale(1.3131,1.0499)" font-size="18.90">f</text><text transform="translate(65.57,0.00) scale(1.0222,1.0485)" font-size="18.90">l</text><text transform="translate(70.62,0.07) scale(1.0782,1.0672)" font-size="18.90">u</text><text transform="translate(82.61,0.00) scale(1.1093,1.0351)" font-size="18.90">x</text><text transform="translate(99.83,0.00) scale(1.0782,1.0408)" font-size="18.90">n</text><text transform="translate(111.63,0.07) scale(1.0631,1.0481)" font-size="18.90">o</text><text transform="translate(123.47,0.00) scale(1.0222,1.0485)" font-size="18.90">i</text><text transform="translate(128.74,0.07) scale(0.9586,1.0509)" font-size="18.90">s</text><text transform="translate(138.23,0.07) scale(1.0801,1.0481)" font-size="18.90">e</text></g>
<g transform="translate(217.40,91.80)" stroke="#000" stroke-width="0.3" style="filter:grayscale(1)"><text transform="translate(-0.65,0.00) scale(1.0865,1.0596)" font-size="18.90">Z</text><text transform="translate(18.63,0.00) scale(0.8571,1.0596)" font-size="18.90">F</text><text transform="translate(29.46,0.00) scale(1.0222,1.0485)" font-size="18.90">l</text><text transform="translate(34.51,0.07) scale(1.0782,1.0672)" font-size="18.90">u</text><text transform="translate(46.52,0.00) scale(1.1093,1.0351)" font-size="18.90">x</text><text transform="translate(63.88,0.00) scale(1.0222,1.0485)" font-size="18.90">l</text><text transform="translate(69.14,0.00) scale(1.0222,1.0485)" font-size="18.90">i</text><text transform="translate(74.27,0.00) scale(1.0782,1.0408)" font-size="18.90">n</text><text transform="translate(86.06,0.07) scale(1.0801,1.0481)" font-size="18.90">e</text></g>
<g transform="translate(217.40,119.20)" stroke="#000" stroke-width="0.3" style="filter:grayscale(1)"><text transform="translate(-1.48,0.00) scale(0.9564,1.0596)" font-size="18.90">R</text><text transform="translate(11.45,0.07) scale(1.0801,1.0481)" font-size="18.90">e</text><text transform="translate(23.43,0.07) scale(0.9586,1.0509)" font-size="18.90">s</text><text transform="translate(32.95,0.07) scale(1.0631,1.0481)" font-size="18.90">o</text><text transform="translate(44.68,0.00) scale(1.0782,1.0408)" font-size="18.90">n</text><text transform="translate(56.71,0.07) scale(0.8992,1.0481)" font-size="18.90">a</text><text transform="translate(68.00,-0.16) scale(1.3365,1.0731)" font-size="18.90">t</text><text transform="translate(75.49,0.07) scale(1.0631,1.0481)" font-size="18.90">o</text><text transform="translate(86.96,0.00) scale(1.2812,1.0408)" font-size="18.90">r</text><text transform="translate(101.11,0.00) scale(0.8844,1.0596)" font-size="18.90">P</text><text transform="translate(112.31,0.07) scale(1.0782,1.0672)" font-size="18.90">u</text><text transform="translate(124.11,0.00) scale(1.2812,1.0408)" font-size="18.90">r</text><text transform="translate(132.01,0.07) scale(1.0034,1.0481)" font-size="18.90">c</text><text transform="translate(142.34,0.07) scale(1.0801,1.0481)" font-size="18.90">e</text><text transform="translate(154.27,0.00) scale(1.0222,1.0485)" font-size="18.90">l</text><text transform="translate(159.52,0.00) scale(1.0222,1.0485)" font-size="18.90">l</text></g>
<g transform="translate(217.40,146.90)" stroke="#000" stroke-width="0.3" style="filter:grayscale(1)"><text transform="translate(-0.89,0.07) scale(0.9283,1.0683)" font-size="18.90">C</text><text transform="translate(12.33,0.07) scale(1.0631,1.0481)" font-size="18.90">o</text><text transform="translate(23.99,0.00) scale(1.1394,1.0408)" font-size="18.90">m</text><text transform="translate(42.50,0.07) scale(1.0879,1.0539)" font-size="18.90">b</text><text transform="translate(54.60,0.00) scale(1.0222,1.0485)" font-size="18.90">i</text><text transform="translate(59.72,0.00) scale(1.0782,1.0408)" font-size="18.90">n</text><text transform="translate(71.51,0.07) scale(1.0801,1.0481)" font-size="18.90">e</text><text transform="translate(83.14,0.07) scale(1.0869,1.0539)" font-size="18.90">d</text><text transform="translate(101.28,0.00) scale(0.9971,1.0596)" font-size="18.90">M</text><text transform="translate(117.48,0.07) scale(1.0631,1.0481)" font-size="18.90">o</text><text transform="translate(129.02,0.07) scale(1.0869,1.0539)" font-size="18.90">d</text><text transform="translate(141.01,0.07) scale(1.0801,1.0481)" font-size="18.90">e</text><text transform="translate(152.94,0.00) scale(1.0222,1.0485)" font-size="18.90">l</text></g>
<g transform="translate(217.40,174.00)" stroke="#000" stroke-width="0.3" style="filter:grayscale(1)"><text transform="translate(-1.60,0.00) scale(1.0346,1.0596)" font-size="18.90">D</text><text transform="translate(13.11,0.07) scale(0.8992,1.0481)" font-size="18.90">a</text><text transform="translate(24.41,-0.16) scale(1.3365,1.0731)" font-size="18.90">t</text><text transform="translate(32.10,0.07) scale(0.8992,1.0481)" font-size="18.90">a</text></g>
<g transform="translate(62.80,201.40) rotate(-90)" stroke="#000" stroke-width="0.3" style="filter:grayscale(1)"><text transform="translate(-39.17,0.00) scale(1.0909,1.0596)" font-size="23.00" font-style="italic">T</text><text transform="translate(-23.32,3.77) scale(1.0068,1.0596)" font-size="16.10">1</text><text transform="translate(-4.90,-1.52) scale(0.8453,0.9560)" font-size="23.00">(</text><text transform="translate(3.53,0.16) scale(1.0945,1.0481)" font-size="23.00" font-style="italic">μ</text><text transform="translate(18.57,0.09) scale(0.9586,1.0509)" font-size="23.00">s</text><text transform="translate(31.65,-1.52) scale(0.8453,0.9560)" font-size="23.00">)</text></g>
<g transform="translate(0.40,26.40)" stroke="#000" stroke-width="0.3" style="filter:grayscale(1)"><text transform="translate(-1.49,-1.88) scale(0.8453,0.9560)" font-size="28.40">(</text><text transform="translate(9.26,0.11) scale(0.8992,1.0481)" font-size="28.40">a</text><text transform="translate(28.18,-1.88) scale(0.8453,0.9560)" font-size="28.40">)</text></g>
<rect x="163.7" y="597.5" width="12.4" height="12.4" rx="1.3" fill="#000"/>
<rect x="181.6" y="591.1" width="12.4" height="12.4" rx="1.3" fill="#000"/>
<rect x="199.5" y="584.1" width="12.4" height="12.4" rx="1.3" fill="#000"/>
<rect x="271.5" y="554.45" width="12.4" height="12.4" rx="1.3" fill="#000"/>
<rect x="343.5" y="524.2" width="12.4" height="12.4" rx="1.3" fill="#000"/>
<rect x="487.3" y="469.3" width="12.4" height="12.4" rx="1.3" fill="#000"/>
<rect x="631.3" y="421.1" width="12.4" height="12.4" rx="1.3" fill="#000"/>
<line x1="187.6" y1="400.1" x2="187.6" y2="639.2" stroke="#b0b0b0" stroke-width="2.5" stroke-linecap="butt"/>
<line x1="277.56" y1="400.1" x2="277.56" y2="639.2" stroke="#b0b0b0" stroke-width="2.5" stroke-linecap="butt"/>
<line x1="367.52" y1="400.1" x2="367.52" y2="639.2" stroke="#b0b0b0" stroke-width="2.5" stroke-linecap="butt"/>
<line x1="457.48" y1="400.1" x2="457.48" y2="639.2" stroke="#b0b0b0" stroke-width="2.5" stroke-linecap="butt"/>
<line x1="547.44" y1="400.1" x2="547.44" y2="639.2" stroke="#b0b0b0" stroke-width="2.5" stroke-linecap="butt"/>
<line x1="637.4" y1="400.1" x2="637.4" y2="639.2" stroke="#b0b0b0" stroke-width="2.5" stroke-linecap="butt"/>
<line x1="146.55" y1="570.9" x2="661" y2="570.9" stroke="#b0b0b0" stroke-width="2.5" stroke-linecap="butt"/>
<line x1="146.55" y1="502.5" x2="661" y2="502.5" stroke="#b0b0b0" stroke-width="2.5" stroke-linecap="butt"/>
<line x1="146.55" y1="434.1" x2="661" y2="434.1" stroke="#b0b0b0" stroke-width="2.5" stroke-linecap="butt"/>
<path d="M169.9,604.26 C170.4,604.06 171.9,603.46 172.9,603.06 C173.9,602.66 174.9,602.26 175.9,601.86 C176.9,601.46 177.9,601.06 178.9,600.65 C179.9,600.25 180.9,599.85 181.9,599.44 C182.9,599.04 183.9,598.63 184.9,598.22 C185.9,597.82 186.9,597.41 187.9,597 C188.9,596.59 189.9,596.19 190.9,595.78 C191.9,595.37 192.9,594.96 193.9,594.55 C194.9,594.14 195.9,593.72 196.9,593.31 C197.9,592.9 198.9,592.49 199.9,592.07 C200.9,591.66 201.9,591.25 202.9,590.83 C203.9,590.42 204.9,590 205.9,589.59 C206.9,589.17 207.9,588.75 208.9,588.34 C209.9,587.92 210.9,587.5 211.9,587.09 C212.9,586.67 213.9,586.25 214.9,585.83 C215.9,585.41 216.9,584.99 217.9,584.57 C218.9,584.15 219.9,583.73 220.9,583.31 C221.9,582.89 222.9,582.47 223.9,582.05 C224.9,581.63 225.9,581.21 226.9,580.78 C227.9,580.36 228.9,579.94 229.9,579.52 C230.9,579.09 231.9,578.67 232.9,578.25 C233.9,577.82 234.9,577.4 235.9,576.98 C236.9,576.55 237.9,576.13 238.9,575.7 C239.9,575.28 240.9,574.86 241.9,574.43 C242.9,574.01 243.9,573.58 244.9,573.16 C245.9,572.73 246.9,572.31 247.9,571.88 C248.9,571.46 249.9,571.03 250.9,570.6 C251.9,570.18 252.9,569.75 253.9,569.33 C254.9,568.9 255.9,568.48 256.9,568.05 C257.9,567.62 258.9,567.2 259.9,566.77 C260.9,566.35 261.9,565.92 262.9,565.5 C263.9,565.07 264.9,564.64 265.9,564.22 C266.9,563.79 267.9,563.37 268.9,562.94 C269.9,562.52 270.9,562.09 271.9,561.67 C272.9,561.24 273.9,560.81 274.9,560.39 C275.9,559.96 276.9,559.54 277.9,559.11 C278.9,558.69 279.9,558.26 280.9,557.84 C281.9,557.42 282.9,556.99 283.9,556.57 C284.9,556.14 285.9,555.72 286.9,555.3 C287.9,554.87 288.9,554.45 289.9,554.02 C290.9,553.6 291.9,553.18 292.9,552.75 C293.9,552.33 294.9,551.91 295.9,551.49 C296.9,551.06 297.9,550.64 298.9,550.22 C299.9,549.8 300.9,549.38 301.9,548.95 C302.9,548.53 303.9,548.11 304.9,547.69 C305.9,547.27 306.9,546.85 307.9,546.43 C308.9,546.01 309.9,545.59 310.9,545.17 C311.9,544.75 312.9,544.33 313.9,543.91 C314.9,543.5 315.9,543.08 316.9,542.66 C317.9,542.24 318.9,541.82 319.9,541.41 C320.9,540.99 321.9,540.57 322.9,540.16 C323.9,539.74 324.9,539.32 325.9,538.91 C326.9,538.49 327.9,538.08 328.9,537.66 C329.9,537.25 330.9,536.83 331.9,536.42 C332.9,536.01 333.9,535.59 334.9,535.18 C335.9,534.77 336.9,534.36 337.9,533.95 C338.9,533.53 339.9,533.12 340.9,532.71 C341.9,532.3 342.9,531.89 343.9,531.48 C344.9,531.07 345.9,530.66 346.9,530.26 C347.9,529.85 348.9,529.44 349.9,529.03 C350.9,528.63 351.9,528.22 352.9,527.81 C353.9,527.41 354.9,527 355.9,526.6 C356.9,526.19 357.9,525.79 358.9,525.39 C359.9,524.98 360.9,524.58 361.9,524.18 C362.9,523.78 363.9,523.38 364.9,522.97 C365.9,522.57 366.9,522.17 367.9,521.77 C368.9,521.38 369.9,520.98 370.9,520.58 C371.9,520.18 372.9,519.78 373.9,519.39 C374.9,518.99 375.9,518.59 376.9,518.2 C377.9,517.8 378.9,517.41 379.9,517.01 C380.9,516.62 381.9,516.23 382.9,515.83 C383.9,515.44 384.9,515.05 385.9,514.66 C386.9,514.26 387.9,513.87 388.9,513.48 C389.9,513.09 390.9,512.7 391.9,512.31 C392.9,511.92 393.9,511.53 394.9,511.15 C395.9,510.76 396.9,510.37 397.9,509.98 C398.9,509.6 399.9,509.21 400.9,508.83 C401.9,508.44 402.9,508.05 403.9,507.67 C404.9,507.29 405.9,506.9 406.9,506.52 C407.9,506.14 408.9,505.75 409.9,505.37 C410.9,504.99 411.9,504.61 412.9,504.23 C413.9,503.84 414.9,503.46 415.9,503.08 C416.9,502.7 417.9,502.32 418.9,501.95 C419.9,501.57 420.9,501.19 421.9,500.81 C422.9,500.43 423.9,500.06 424.9,499.68 C425.9,499.3 426.9,498.93 427.9,498.55 C428.9,498.18 429.9,497.8 430.9,497.43 C431.9,497.05 432.9,496.68 433.9,496.31 C434.9,495.93 435.9,495.56 436.9,495.19 C437.9,494.82 438.9,494.44 439.9,494.07 C440.9,493.7 441.9,493.33 442.9,492.96 C443.9,492.59 444.9,492.22 445.9,491.85 C446.9,491.48 447.9,491.11 448.9,490.75 C449.9,490.38 450.9,490.01 451.9,489.64 C452.9,489.28 453.9,488.91 454.9,488.54 C455.9,488.18 456.9,487.81 457.9,487.45 C458.9,487.08 459.9,486.72 460.9,486.35 C461.9,485.99 462.9,485.62 463.9,485.26 C464.9,484.9 465.9,484.53 466.9,484.17 C467.9,483.81 468.9,483.45 469.9,483.09 C470.9,482.73 471.9,482.36 472.9,482 C473.9,481.64 474.9,481.28 475.9,480.92 C476.9,480.56 477.9,480.21 478.9,479.85 C479.9,479.49 480.9,479.13 481.9,478.77 C482.9,478.41 483.9,478.06 484.9,477.7 C485.9,477.34 486.9,476.99 487.9,476.63 C488.9,476.28 489.9,475.92 490.9,475.57 C491.9,475.21 492.9,474.86 493.9,474.5 C494.9,474.15 495.9,473.79 496.9,473.44 C497.9,473.09 498.9,472.73 499.9,472.38 C500.9,472.03 501.9,471.68 502.9,471.32 C503.9,470.97 504.9,470.62 505.9,470.27 C506.9,469.92 507.9,469.57 508.9,469.22 C509.9,468.87 510.9,468.52 511.9,468.17 C512.9,467.82 513.9,467.47 514.9,467.12 C515.9,466.77 516.9,466.43 517.9,466.08 C518.9,465.73 519.9,465.38 520.9,465.04 C521.9,464.69 522.9,464.34 523.9,464 C524.9,463.65 525.9,463.3 526.9,462.96 C527.9,462.61 528.9,462.27 529.9,461.92 C530.9,461.58 531.9,461.23 532.9,460.89 C533.9,460.55 534.9,460.2 535.9,459.86 C536.9,459.52 537.9,459.17 538.9,458.83 C539.9,458.49 540.9,458.14 541.9,457.8 C542.9,457.46 543.9,457.12 544.9,456.78 C545.9,456.44 546.9,456.1 547.9,455.75 C548.9,455.41 549.9,455.07 550.9,454.73 C551.9,454.39 552.9,454.05 553.9,453.71 C554.9,453.38 555.9,453.04 556.9,452.7 C557.9,452.36 558.9,452.02 559.9,451.68 C560.9,451.34 561.9,451.01 562.9,450.67 C563.9,450.33 564.9,449.99 565.9,449.66 C566.9,449.32 567.9,448.98 568.9,448.65 C569.9,448.31 570.9,447.97 571.9,447.64 C572.9,447.3 573.9,446.97 574.9,446.63 C575.9,446.3 576.9,445.96 577.9,445.63 C578.9,445.29 579.9,444.96 580.9,444.62 C581.9,444.29 582.9,443.96 583.9,443.62 C584.9,443.29 585.9,442.95 586.9,442.62 C587.9,442.29 588.9,441.96 589.9,441.62 C590.9,441.29 591.9,440.96 592.9,440.63 C593.9,440.29 594.9,439.96 595.9,439.63 C596.9,439.3 597.9,438.97 598.9,438.64 C599.9,438.31 600.9,437.97 601.9,437.64 C602.9,437.31 603.9,436.98 604.9,436.65 C605.9,436.32 606.9,435.99 607.9,435.66 C608.9,435.33 609.9,435 610.9,434.67 C611.9,434.34 612.9,434.02 613.9,433.69 C614.9,433.36 615.9,433.03 616.9,432.7 C617.9,432.37 618.9,432.04 619.9,431.72 C620.9,431.39 621.9,431.06 622.9,430.73 C623.9,430.4 624.9,430.08 625.9,429.75 C626.9,429.42 627.9,429.09 628.9,428.77 C629.9,428.44 630.9,428.11 631.9,427.79 C632.9,427.46 633.97,427.11 634.9,426.81 C635.83,426.5 637.07,426.1 637.5,425.96" fill="none" stroke="#000" stroke-width="2.94" stroke-linecap="square" stroke-linejoin="round"/>
<line x1="187.6" y1="639.2" x2="187.6" y2="649.6" stroke="#000" stroke-width="2.3" stroke-linecap="butt"/>
<line x1="277.56" y1="639.2" x2="277.56" y2="649.6" stroke="#000" stroke-width="2.3" stroke-linecap="butt"/>
<line x1="367.52" y1="639.2" x2="367.52" y2="649.6" stroke="#000" stroke-width="2.3" stroke-linecap="butt"/>
<line x1="457.48" y1="639.2" x2="457.48" y2="649.6" stroke="#000" stroke-width="2.3" stroke-linecap="butt"/>
<line x1="547.44" y1="639.2" x2="547.44" y2="649.6" stroke="#000" stroke-width="2.3" stroke-linecap="butt"/>
<line x1="637.4" y1="639.2" x2="637.4" y2="649.6" stroke="#000" stroke-width="2.3" stroke-linecap="butt"/>
<line x1="136.15" y1="639.3" x2="146.55" y2="639.3" stroke="#000" stroke-width="2.3" stroke-linecap="butt"/>
<line x1="136.15" y1="570.9" x2="146.55" y2="570.9" stroke="#000" stroke-width="2.3" stroke-linecap="butt"/>
<line x1="136.15" y1="502.5" x2="146.55" y2="502.5" stroke="#000" stroke-width="2.3" stroke-linecap="butt"/>
<line x1="136.15" y1="434.1" x2="146.55" y2="434.1" stroke="#000" stroke-width="2.3" stroke-linecap="butt"/>
<rect x="146.55" y="400.1" width="514.45" height="239.1" fill="none" stroke="#000" stroke-width="2.3"/>
<g transform="translate(187.60,676.80)" stroke="#000" stroke-width="0.3" style="filter:grayscale(1)"><text transform="translate(-31.93,0.08) scale(1.0541,1.0683)" font-size="22.70">0</text><text transform="translate(-17.87,0.00) scale(1.0821,1.1598)" font-size="22.70">.</text><text transform="translate(-10.33,0.00) scale(1.0161,1.0629)" font-size="22.70">2</text><text transform="translate(4.27,0.00) scale(1.0311,1.0596)" font-size="22.70">7</text><text transform="translate(18.90,0.09) scale(0.9949,1.0651)" font-size="22.70">5</text></g>
<g transform="translate(277.56,676.80)" stroke="#000" stroke-width="0.3" style="filter:grayscale(1)"><text transform="translate(-31.93,0.08) scale(1.0541,1.0683)" font-size="22.70">0</text><text transform="translate(-17.87,0.00) scale(1.0821,1.1598)" font-size="22.70">.</text><text transform="translate(-9.98,0.08) scale(1.0124,1.0683)" font-size="22.70">3</text><text transform="translate(4.17,0.08) scale(1.0541,1.0683)" font-size="22.70">0</text><text transform="translate(18.61,0.08) scale(1.0541,1.0683)" font-size="22.70">0</text></g>
<g transform="translate(367.52,676.80)" stroke="#000" stroke-width="0.3" style="filter:grayscale(1)"><text transform="translate(-31.93,0.08) scale(1.0541,1.0683)" font-size="22.70">0</text><text transform="translate(-17.87,0.00) scale(1.0821,1.1598)" font-size="22.70">.</text><text transform="translate(-9.98,0.08) scale(1.0124,1.0683)" font-size="22.70">3</text><text transform="translate(4.11,0.00) scale(1.0161,1.0629)" font-size="22.70">2</text><text transform="translate(18.90,0.09) scale(0.9949,1.0651)" font-size="22.70">5</text></g>
<g transform="translate(457.48,676.80)" stroke="#000" stroke-width="0.3" style="filter:grayscale(1)"><text transform="translate(-31.93,0.08) scale(1.0541,1.0683)" font-size="22.70">0</text><text transform="translate(-17.87,0.00) scale(1.0821,1.1598)" font-size="22.70">.</text><text transform="translate(-9.98,0.08) scale(1.0124,1.0683)" font-size="22.70">3</text><text transform="translate(4.45,0.09) scale(0.9949,1.0651)" font-size="22.70">5</text><text transform="translate(18.61,0.08) scale(1.0541,1.0683)" font-size="22.70">0</text></g>
<g transform="translate(547.44,676.80)" stroke="#000" stroke-width="0.3" style="filter:grayscale(1)"><text transform="translate(-31.93,0.08) scale(1.0541,1.0683)" font-size="22.70">0</text><text transform="translate(-17.87,0.00) scale(1.0821,1.1598)" font-size="22.70">.</text><text transform="translate(-9.98,0.08) scale(1.0124,1.0683)" font-size="22.70">3</text><text transform="translate(4.27,0.00) scale(1.0311,1.0596)" font-size="22.70">7</text><text transform="translate(18.90,0.09) scale(0.9949,1.0651)" font-size="22.70">5</text></g>
<g transform="translate(637.40,676.80)" stroke="#000" stroke-width="0.3" style="filter:grayscale(1)"><text transform="translate(-31.93,0.08) scale(1.0541,1.0683)" font-size="22.70">0</text><text transform="translate(-17.87,0.00) scale(1.0821,1.1598)" font-size="22.70">.</text><text transform="translate(-10.28,0.00) scale(1.0543,1.0596)" font-size="22.70">4</text><text transform="translate(4.17,0.08) scale(1.0541,1.0683)" font-size="22.70">0</text><text transform="translate(18.61,0.08) scale(1.0541,1.0683)" font-size="22.70">0</text></g>
<g transform="translate(126.60,647.90)" stroke="#000" stroke-width="0.3" style="filter:grayscale(1)"><text transform="translate(-13.88,0.08) scale(1.0541,1.0683)" font-size="22.70">0</text></g>
<g transform="translate(126.60,579.50)" stroke="#000" stroke-width="0.3" style="filter:grayscale(1)"><text transform="translate(-13.94,0.00) scale(1.0161,1.0629)" font-size="22.70">2</text></g>
<g transform="translate(126.60,511.10)" stroke="#000" stroke-width="0.3" style="filter:grayscale(1)"><text transform="translate(-13.88,0.00) scale(1.0543,1.0596)" font-size="22.70">4</text></g>
<g transform="translate(126.60,442.70)" stroke="#000" stroke-width="0.3" style="filter:grayscale(1)"><text transform="translate(-14.12,0.08) scale(1.0910,1.0683)" font-size="22.70">6</text></g>
<rect x="156.1" y="409.4" width="190.4" height="60.4" rx="3.8" ry="3.8" fill="#fff" fill-opacity="0.8" stroke="#cccccc" stroke-opacity="0.8" stroke-width="2.7"/>
<rect x="175.95" y="420.25" width="12.3" height="12.3" rx="1.3" fill="#000"/>
<line x1="163.1" y1="452.05" x2="201.4" y2="452.05" stroke="#000" stroke-width="2.94" stroke-linecap="square"/>
<g transform="translate(217.80,430.90)" stroke="#000" stroke-width="0.3" style="filter:grayscale(1)"><text transform="translate(-1.60,0.00) scale(1.0346,1.0596)" font-size="18.90">D</text><text transform="translate(13.11,0.07) scale(0.8992,1.0481)" font-size="18.90">a</text><text transform="translate(24.41,-0.16) scale(1.3365,1.0731)" font-size="18.90">t</text><text transform="translate(32.10,0.07) scale(0.8992,1.0481)" font-size="18.90">a</text></g>
<g transform="translate(217.40,458.50)" stroke="#000" stroke-width="0.3" style="filter:grayscale(1)"><text transform="translate(-0.89,0.07) scale(0.9283,1.0683)" font-size="18.90">C</text><text transform="translate(12.62,0.00) scale(1.0222,1.0485)" font-size="18.90">i</text><text transform="translate(17.49,0.00) scale(1.2812,1.0408)" font-size="18.90">r</text><text transform="translate(25.39,0.07) scale(1.0034,1.0481)" font-size="18.90">c</text><text transform="translate(35.83,0.07) scale(1.0782,1.0672)" font-size="18.90">u</text><text transform="translate(48.02,0.00) scale(1.0222,1.0485)" font-size="18.90">i</text><text transform="translate(52.90,-0.16) scale(1.3365,1.0731)" font-size="18.90">t</text><text transform="translate(66.51,0.00) scale(0.9971,1.0596)" font-size="18.90">M</text><text transform="translate(82.70,0.07) scale(1.0631,1.0481)" font-size="18.90">o</text><text transform="translate(94.25,0.07) scale(1.0869,1.0539)" font-size="18.90">d</text><text transform="translate(106.24,0.07) scale(1.0801,1.0481)" font-size="18.90">e</text><text transform="translate(118.17,0.00) scale(1.0222,1.0485)" font-size="18.90">l</text></g>
<g transform="translate(91.60,520.80) rotate(-90)" stroke="#000" stroke-width="0.3" style="filter:grayscale(1)"><text transform="translate(-71.25,0.00) scale(1.0755,1.0596)" font-size="23.00" font-style="italic">Δ</text><text transform="translate(-54.55,1.88) scale(1.2127,1.1190)" font-size="23.00">/</text><text transform="translate(-46.03,-1.52) scale(0.8453,0.9560)" font-size="23.00">(</text><text transform="translate(-37.31,0.00) scale(1.0161,1.0629)" font-size="23.00">2</text><text transform="translate(-22.83,0.20) scale(0.8750,1.0517)" font-size="23.00" font-style="italic">π</text><text transform="translate(-7.62,-1.52) scale(0.8453,0.9560)" font-size="23.00">)</text><text transform="translate(7.71,-1.52) scale(0.8453,0.9560)" font-size="23.00">(</text><text transform="translate(16.08,0.09) scale(0.9753,1.0683)" font-size="23.00">G</text><text transform="translate(34.12,0.00) scale(0.9948,1.0596)" font-size="23.00">H</text><text transform="translate(51.02,0.00) scale(1.0715,1.0351)" font-size="23.00">z</text><text transform="translate(64.83,-1.52) scale(0.8453,0.9560)" font-size="23.00">)</text></g>
<g transform="translate(403.10,710.80)" stroke="#000" stroke-width="0.3" style="filter:grayscale(1)"><text transform="translate(-41.13,-0.13) scale(0.9864,1.0441)" font-size="23.00">Φ</text><text transform="translate(-22.51,3.77) scale(1.0995,1.0351)" font-size="16.10" font-style="italic">x</text><text transform="translate(-4.56,-1.52) scale(0.8453,0.9560)" font-size="23.00">(</text><text transform="translate(3.64,-0.13) scale(0.9864,1.0441)" font-size="23.00">Φ</text><text transform="translate(22.36,3.83) scale(1.0541,1.0683)" font-size="16.10">0</text><text transform="translate(34.56,-1.52) scale(0.8453,0.9560)" font-size="23.00">)</text></g>
<g transform="translate(0.40,438.00)" stroke="#000" stroke-width="0.3" style="filter:grayscale(1)"><text transform="translate(-1.49,-1.88) scale(0.8453,0.9560)" font-size="28.40">(</text><text transform="translate(9.23,0.11) scale(1.0879,1.0539)" font-size="28.40">b</text><text transform="translate(28.80,-1.88) scale(0.8453,0.9560)" font-size="28.40">)</text></g>
<clipPath id="clipC"><rect x="146.55" y="718.9" width="514.45" height="398.9"/></clipPath>
<path d="M148.2,800.1 C148.53,799.6 149.53,798.08 150.2,797.11 C150.87,796.14 151.53,795.2 152.2,794.28 C152.87,793.37 153.53,792.48 154.2,791.62 C154.87,790.75 155.53,789.92 156.2,789.1 C156.87,788.29 157.53,787.5 158.2,786.74 C158.87,785.97 159.53,785.23 160.2,784.51 C160.87,783.79 161.53,783.09 162.2,782.42 C162.87,781.74 163.53,781.08 164.2,780.45 C164.87,779.81 165.53,779.19 166.2,778.59 C166.87,777.99 167.53,777.41 168.2,776.85 C168.87,776.28 169.53,775.74 170.2,775.21 C170.87,774.67 171.53,774.16 172.2,773.66 C172.87,773.16 173.53,772.67 174.2,772.2 C174.87,771.73 175.53,771.27 176.2,770.82 C176.87,770.37 177.53,769.94 178.2,769.51 C178.87,769.09 179.53,768.68 180.2,768.28 C180.87,767.88 181.53,767.49 182.2,767.12 C182.87,766.74 183.53,766.37 184.2,766.02 C184.87,765.66 185.53,765.32 186.2,764.99 C186.87,764.65 187.53,764.33 188.2,764.02 C188.87,763.7 189.53,763.4 190.2,763.11 C190.87,762.82 191.53,762.53 192.2,762.26 C192.87,761.99 193.53,761.73 194.2,761.47 C194.87,761.22 195.53,760.97 196.2,760.74 C196.87,760.5 197.53,760.27 198.2,760.06 C198.87,759.84 199.53,759.63 200.2,759.43 C200.87,759.23 201.53,759.03 202.2,758.85 C202.87,758.66 203.53,758.48 204.2,758.32 C204.87,758.15 205.53,757.98 206.2,757.83 C206.87,757.67 207.53,757.53 208.2,757.39 C208.87,757.25 209.53,757.11 210.2,756.99 C210.87,756.86 211.53,756.74 212.2,756.62 C212.87,756.51 213.53,756.4 214.2,756.3 C214.87,756.2 215.53,756.1 216.2,756.01 C216.87,755.92 217.53,755.84 218.2,755.76 C218.87,755.68 219.53,755.61 220.2,755.54 C220.87,755.47 221.53,755.41 222.2,755.35 C222.87,755.29 223.53,755.24 224.2,755.19 C224.87,755.13 225.53,755.09 226.2,755.05 C226.87,755.01 227.53,754.97 228.2,754.93 C228.87,754.9 229.53,754.87 230.2,754.84 C230.87,754.82 231.53,754.8 232.2,754.78 C232.87,754.76 233.53,754.74 234.2,754.73 C234.87,754.72 235.53,754.72 236.2,754.72 C236.87,754.71 237.53,754.72 238.2,754.72 C238.87,754.73 239.53,754.74 240.2,754.76 C240.87,754.77 241.53,754.79 242.2,754.82 C242.87,754.84 243.53,754.87 244.2,754.91 C244.87,754.94 245.53,754.98 246.2,755.02 C246.87,755.07 247.53,755.12 248.2,755.17 C248.87,755.22 249.53,755.28 250.2,755.35 C250.87,755.41 251.53,755.48 252.2,755.56 C252.87,755.63 253.53,755.71 254.2,755.8 C254.87,755.88 255.53,755.98 256.2,756.07 C256.87,756.17 257.53,756.27 258.2,756.38 C258.87,756.49 259.53,756.6 260.2,756.72 C260.87,756.84 261.53,756.97 262.2,757.1 C262.87,757.23 263.53,757.37 264.2,757.51 C264.87,757.66 265.53,757.81 266.2,757.96 C266.87,758.12 267.53,758.28 268.2,758.45 C268.87,758.62 269.53,758.8 270.2,758.98 C270.87,759.16 271.53,759.35 272.2,759.54 C272.87,759.74 273.53,759.94 274.2,760.15 C274.87,760.36 275.53,760.57 276.2,760.8 C276.87,761.02 277.53,761.25 278.2,761.49 C278.87,761.72 279.53,761.97 280.2,762.22 C280.87,762.47 281.53,762.73 282.2,762.99 C282.87,763.26 283.53,763.53 284.2,763.81 C284.87,764.09 285.53,764.38 286.2,764.67 C286.87,764.97 287.53,765.27 288.2,765.58 C288.87,765.89 289.53,766.21 290.2,766.53 C290.87,766.86 291.53,767.19 292.2,767.52 C292.87,767.86 293.53,768.2 294.2,768.54 C294.87,768.89 295.53,769.24 296.2,769.6 C296.87,769.96 297.53,770.32 298.2,770.68 C298.87,771.05 299.53,771.42 300.2,771.79 C300.87,772.17 301.53,772.54 302.2,772.92 C302.87,773.3 303.53,773.69 304.2,774.07 C304.87,774.46 305.53,774.85 306.2,775.24 C306.87,775.63 307.53,776.02 308.2,776.41 C308.87,776.8 309.53,777.2 310.2,777.59 C310.87,777.99 311.53,778.38 312.2,778.78 C312.87,779.17 313.53,779.57 314.2,779.97 C314.87,780.36 315.53,780.76 316.2,781.15 C316.87,781.55 317.53,781.94 318.2,782.33 C318.87,782.72 319.53,783.11 320.2,783.5 C320.87,783.89 321.53,784.28 322.2,784.66 C322.87,785.04 323.53,785.42 324.2,785.8 C324.87,786.18 325.53,786.55 326.2,786.92 C326.87,787.29 327.53,787.66 328.2,788.02 C328.87,788.38 329.53,788.74 330.2,789.1 C330.87,789.45 331.53,789.8 332.2,790.14 C332.87,790.48 333.53,790.82 334.2,791.15 C334.87,791.48 335.53,791.8 336.2,792.12 C336.87,792.44 337.53,792.75 338.2,793.06 C338.87,793.36 339.53,793.66 340.2,793.95 C340.87,794.24 341.53,794.52 342.2,794.79 C342.87,795.06 343.53,795.32 344.2,795.57 C344.87,795.82 345.53,796.06 346.2,796.28 C346.87,796.51 347.53,796.72 348.2,796.92 C348.87,797.12 349.53,797.3 350.2,797.47 C350.87,797.64 351.53,797.8 352.2,797.93 C352.87,798.07 353.53,798.19 354.2,798.29 C354.87,798.39 355.53,798.48 356.2,798.54 C356.87,798.61 357.53,798.65 358.2,798.68 C358.87,798.7 359.53,798.7 360.2,798.68 C360.87,798.66 361.53,798.62 362.2,798.56 C362.87,798.49 363.53,798.4 364.2,798.3 C364.87,798.19 365.53,798.06 366.2,797.91 C366.87,797.76 367.53,797.59 368.2,797.4 C368.87,797.21 369.53,797 370.2,796.78 C370.87,796.56 371.53,796.32 372.2,796.07 C372.87,795.81 373.53,795.54 374.2,795.26 C374.87,794.98 375.53,794.68 376.2,794.37 C376.87,794.06 377.53,793.74 378.2,793.41 C378.87,793.08 379.53,792.73 380.2,792.38 C380.87,792.03 381.53,791.67 382.2,791.3 C382.87,790.94 383.53,790.56 384.2,790.18 C384.87,789.8 385.53,789.41 386.2,789.02 C386.87,788.63 387.53,788.23 388.2,787.84 C388.87,787.44 389.53,787.03 390.2,786.63 C390.87,786.23 391.53,785.82 392.2,785.42 C392.87,785.01 393.53,784.61 394.2,784.21 C394.87,783.81 395.53,783.4 396.2,783.01 C396.87,782.61 397.53,782.21 398.2,781.82 C398.87,781.43 399.53,781.04 400.2,780.66 C400.87,780.28 401.53,779.9 402.2,779.52 C402.87,779.14 403.53,778.77 404.2,778.4 C404.87,778.03 405.53,777.67 406.2,777.31 C406.87,776.94 407.53,776.59 408.2,776.23 C408.87,775.88 409.53,775.53 410.2,775.19 C410.87,774.84 411.53,774.5 412.2,774.16 C412.87,773.83 413.53,773.49 414.2,773.16 C414.87,772.84 415.53,772.51 416.2,772.19 C416.87,771.87 417.53,771.56 418.2,771.24 C418.87,770.93 419.53,770.63 420.2,770.32 C420.87,770.02 421.53,769.72 422.2,769.43 C422.87,769.14 423.53,768.85 424.2,768.57 C424.87,768.28 425.53,768 426.2,767.73 C426.87,767.45 427.53,767.18 428.2,766.92 C428.87,766.66 429.53,766.4 430.2,766.14 C430.87,765.89 431.53,765.64 432.2,765.39 C432.87,765.15 433.53,764.91 434.2,764.67 C434.87,764.44 435.53,764.21 436.2,763.98 C436.87,763.76 437.53,763.54 438.2,763.33 C438.87,763.11 439.53,762.91 440.2,762.7 C440.87,762.5 441.53,762.3 442.2,762.11 C442.87,761.92 443.53,761.73 444.2,761.55 C444.87,761.37 445.53,761.19 446.2,761.03 C446.87,760.86 447.53,760.69 448.2,760.53 C448.87,760.38 449.53,760.22 450.2,760.08 C450.87,759.93 451.53,759.79 452.2,759.65 C452.87,759.52 453.53,759.39 454.2,759.26 C454.87,759.14 455.53,759.02 456.2,758.91 C456.87,758.79 457.53,758.69 458.2,758.58 C458.87,758.48 459.53,758.39 460.2,758.3 C460.87,758.21 461.53,758.12 462.2,758.04 C462.87,757.96 463.53,757.89 464.2,757.82 C464.87,757.75 465.53,757.69 466.2,757.64 C466.87,757.58 467.53,757.53 468.2,757.48 C468.87,757.44 469.53,757.4 470.2,757.37 C470.87,757.33 471.53,757.3 472.2,757.28 C472.87,757.26 473.53,757.24 474.2,757.23 C474.87,757.22 475.53,757.21 476.2,757.21 C476.87,757.21 477.53,757.22 478.2,757.23 C478.87,757.24 479.53,757.26 480.2,757.28 C480.87,757.3 481.53,757.33 482.2,757.37 C482.87,757.4 483.53,757.44 484.2,757.48 C484.87,757.53 485.53,757.58 486.2,757.64 C486.87,757.69 487.53,757.76 488.2,757.82 C488.87,757.89 489.53,757.96 490.2,758.04 C490.87,758.12 491.53,758.21 492.2,758.3 C492.87,758.39 493.53,758.48 494.2,758.58 C494.87,758.69 495.53,758.79 496.2,758.91 C496.87,759.02 497.53,759.14 498.2,759.26 C498.87,759.39 499.53,759.51 500.2,759.65 C500.87,759.79 501.53,759.93 502.2,760.07 C502.87,760.22 503.53,760.37 504.2,760.53 C504.87,760.69 505.53,760.85 506.2,761.02 C506.87,761.19 507.53,761.36 508.2,761.54 C508.87,761.72 509.53,761.91 510.2,762.1 C510.87,762.29 511.53,762.49 512.2,762.69 C512.87,762.9 513.53,763.1 514.2,763.32 C514.87,763.53 515.53,763.75 516.2,763.98 C516.87,764.2 517.53,764.43 518.2,764.67 C518.87,764.91 519.53,765.15 520.2,765.4 C520.87,765.64 521.53,765.9 522.2,766.16 C522.87,766.42 523.53,766.69 524.2,766.97 C524.87,767.24 525.53,767.53 526.2,767.82 C526.87,768.11 527.53,768.42 528.2,768.73 C528.87,769.04 529.53,769.36 530.2,769.69 C530.87,770.02 531.53,770.36 532.2,770.71 C532.87,771.07 533.53,771.43 534.2,771.8 C534.87,772.18 535.53,772.56 536.2,772.96 C536.87,773.36 537.53,773.77 538.2,774.2 C538.87,774.62 539.53,775.06 540.2,775.51 C540.87,775.96 541.53,776.43 542.2,776.91 C542.87,777.39 543.53,777.89 544.2,778.4 C544.87,778.91 545.53,779.43 546.2,779.98 C546.87,780.52 547.53,781.08 548.2,781.66 C548.87,782.23 549.53,782.83 550.2,783.44 C550.87,784.05 551.53,784.68 552.2,785.33 C552.87,785.98 553.53,786.64 554.2,787.33 C554.87,788.02 555.85,789.08 556.2,789.45 C556.55,789.82 555.55,788.67 556.3,789.56 C557.05,790.45 559.25,792.98 560.7,794.8 C562.15,796.62 563.55,798.47 565,800.5 C566.45,802.53 567.93,804.75 569.4,807 C570.87,809.25 572.33,811.52 573.8,814 C575.27,816.48 576.73,819.08 578.2,821.9 C579.67,824.72 581.35,828.12 582.6,830.9 C583.85,833.68 584.75,835.98 585.7,838.6 C586.65,841.22 587.43,844.18 588.3,846.6 C589.17,849.02 590.1,850.92 590.9,853.1 C591.7,855.28 592.4,857.5 593.1,859.7 C593.8,861.9 594.47,864.1 595.1,866.3 C595.73,868.5 596.27,869.98 596.9,872.9 C597.53,875.82 598.27,880.53 598.9,883.8 C599.53,887.07 600.12,889.58 600.7,892.5 C601.28,895.42 601.78,898.38 602.4,901.3 C603.02,904.22 603.77,906.88 604.4,910 C605.03,913.12 605.6,916.65 606.2,920 C606.8,923.35 607.45,926.75 608,930.1 C608.55,933.45 609.03,936.75 609.5,940.1 C609.97,943.45 610.33,946.85 610.8,950.2 C611.27,953.55 611.83,956.85 612.3,960.2 C612.77,963.55 613.18,967 613.6,970.3 C614.02,973.6 614.23,974.78 614.8,980 C615.37,985.22 616.23,994.02 617,1001.6 C617.77,1009.18 618.65,1017.55 619.4,1025.5 C620.15,1033.45 620.83,1041.35 621.5,1049.3 C622.17,1057.25 622.82,1065.25 623.4,1073.2 C623.98,1081.15 624.63,1089.85 625,1097 C625.37,1104.15 625.45,1111.43 625.6,1116.1 C625.75,1120.77 625.85,1123.52 625.9,1125" fill="none" stroke="#008000" stroke-width="2.94" stroke-linecap="square" stroke-linejoin="round" clip-path="url(#clipC)"/>
<path d="M643.2,1125 C643.25,1123.52 643.37,1120.77 643.5,1116.1 C643.63,1111.43 643.73,1104.15 644,1097 C644.27,1089.85 644.65,1081.15 645.1,1073.2 C645.55,1065.25 646.17,1057.25 646.7,1049.3 C647.23,1041.35 647.63,1033.45 648.3,1025.5 C648.97,1017.55 649.77,1009.57 650.7,1001.6 C651.63,993.63 652.85,985.65 653.9,977.7 C654.95,969.75 655.95,960.78 657,953.9 C658.05,947.02 659.28,941.05 660.2,936.4 C661.12,931.75 662.12,927.73 662.5,926" fill="none" stroke="#008000" stroke-width="2.94" stroke-linecap="square" stroke-linejoin="round" clip-path="url(#clipC)"/>
<path d="M149.1,783.21 C149.6,782.93 151.1,782.08 152.1,781.54 C153.1,780.99 154.1,780.46 155.1,779.95 C156.1,779.43 157.1,778.93 158.1,778.44 C159.1,777.95 160.1,777.48 161.1,777.02 C162.1,776.55 163.1,776.1 164.1,775.67 C165.1,775.23 166.1,774.81 167.1,774.39 C168.1,773.98 169.1,773.58 170.1,773.19 C171.1,772.8 172.1,772.43 173.1,772.06 C174.1,771.7 175.1,771.34 176.1,771 C177.1,770.66 178.1,770.33 179.1,770.01 C180.1,769.69 181.1,769.38 182.1,769.08 C183.1,768.78 184.1,768.49 185.1,768.21 C186.1,767.93 187.1,767.67 188.1,767.41 C189.1,767.15 190.1,766.9 191.1,766.66 C192.1,766.43 193.1,766.2 194.1,765.98 C195.1,765.76 196.1,765.55 197.1,765.34 C198.1,765.14 199.1,764.95 200.1,764.77 C201.1,764.58 202.1,764.41 203.1,764.24 C204.1,764.07 205.1,763.91 206.1,763.76 C207.1,763.61 208.1,763.46 209.1,763.33 C210.1,763.19 211.1,763.06 212.1,762.94 C213.1,762.82 214.1,762.71 215.1,762.6 C216.1,762.49 217.1,762.39 218.1,762.3 C219.1,762.21 220.1,762.12 221.1,762.04 C222.1,761.96 223.1,761.88 224.1,761.81 C225.1,761.74 226.1,761.68 227.1,761.62 C228.1,761.57 229.1,761.52 230.1,761.47 C231.1,761.42 232.1,761.38 233.1,761.35 C234.1,761.31 235.1,761.28 236.1,761.25 C237.1,761.22 238.1,761.2 239.1,761.18 C240.1,761.17 241.1,761.15 242.1,761.14 C243.1,761.13 244.1,761.13 245.1,761.12 C246.1,761.12 247.1,761.12 248.1,761.13 C249.1,761.13 250.1,761.14 251.1,761.15 C252.1,761.17 253.1,761.18 254.1,761.2 C255.1,761.22 256.1,761.24 257.1,761.27 C258.1,761.29 259.1,761.32 260.1,761.35 C261.1,761.39 262.1,761.42 263.1,761.46 C264.1,761.5 265.1,761.54 266.1,761.58 C267.1,761.62 268.1,761.67 269.1,761.72 C270.1,761.77 271.1,761.82 272.1,761.87 C273.1,761.92 274.1,761.98 275.1,762.04 C276.1,762.09 277.1,762.16 278.1,762.22 C279.1,762.28 280.1,762.34 281.1,762.41 C282.1,762.48 283.1,762.55 284.1,762.62 C285.1,762.69 286.1,762.76 287.1,762.83 C288.1,762.9 289.1,762.98 290.1,763.06 C291.1,763.13 292.1,763.21 293.1,763.29 C294.1,763.37 295.1,763.45 296.1,763.53 C297.1,763.62 298.1,763.7 299.1,763.78 C300.1,763.87 301.1,763.95 302.1,764.04 C303.1,764.12 304.1,764.21 305.1,764.3 C306.1,764.39 307.1,764.48 308.1,764.56 C309.1,764.65 310.1,764.74 311.1,764.83 C312.1,764.92 313.1,765.01 314.1,765.11 C315.1,765.2 316.1,765.29 317.1,765.38 C318.1,765.47 319.1,765.56 320.1,765.65 C321.1,765.74 322.1,765.84 323.1,765.93 C324.1,766.02 325.1,766.11 326.1,766.2 C327.1,766.29 328.1,766.38 329.1,766.47 C330.1,766.56 331.1,766.65 332.1,766.74 C333.1,766.83 334.1,766.91 335.1,767 C336.1,767.09 337.1,767.18 338.1,767.26 C339.1,767.35 340.1,767.43 341.1,767.51 C342.1,767.6 343.1,767.68 344.1,767.76 C345.1,767.84 346.1,767.92 347.1,768 C348.1,768.08 349.1,768.16 350.1,768.23 C351.1,768.31 352.1,768.38 353.1,768.46 C354.1,768.53 355.1,768.6 356.1,768.67 C357.1,768.74 358.1,768.8 359.1,768.87 C360.1,768.93 361.1,769 362.1,769.06 C363.1,769.12 364.1,769.18 365.1,769.23 C366.1,769.29 367.1,769.34 368.1,769.4 C369.1,769.45 370.1,769.5 371.1,769.54 C372.1,769.59 373.1,769.63 374.1,769.68 C375.1,769.72 376.1,769.76 377.1,769.79 C378.1,769.83 379.1,769.86 380.1,769.89 C381.1,769.92 382.1,769.95 383.1,769.97 C384.1,769.99 385.1,770.01 386.1,770.03 C387.1,770.05 388.1,770.06 389.1,770.07 C390.1,770.08 391.1,770.09 392.1,770.09 C393.1,770.09 394.1,770.09 395.1,770.09 C396.1,770.08 397.1,770.07 398.1,770.06 C399.1,770.05 400.1,770.03 401.1,770.01 C402.1,769.99 403.1,769.97 404.1,769.94 C405.1,769.92 406.1,769.89 407.1,769.86 C408.1,769.82 409.1,769.79 410.1,769.75 C411.1,769.71 412.1,769.67 413.1,769.63 C414.1,769.58 415.1,769.54 416.1,769.49 C417.1,769.44 418.1,769.39 419.1,769.33 C420.1,769.28 421.1,769.22 422.1,769.16 C423.1,769.11 424.1,769.05 425.1,768.98 C426.1,768.92 427.1,768.86 428.1,768.79 C429.1,768.73 430.1,768.66 431.1,768.59 C432.1,768.52 433.1,768.45 434.1,768.38 C435.1,768.31 436.1,768.24 437.1,768.16 C438.1,768.09 439.1,768.01 440.1,767.94 C441.1,767.86 442.1,767.79 443.1,767.71 C444.1,767.63 445.1,767.56 446.1,767.48 C447.1,767.4 448.1,767.32 449.1,767.24 C450.1,767.16 451.1,767.08 452.1,767.01 C453.1,766.93 454.1,766.85 455.1,766.77 C456.1,766.69 457.1,766.61 458.1,766.53 C459.1,766.46 460.1,766.38 461.1,766.3 C462.1,766.22 463.1,766.15 464.1,766.07 C465.1,766 466.1,765.92 467.1,765.85 C468.1,765.77 469.1,765.7 470.1,765.63 C471.1,765.56 472.1,765.48 473.1,765.42 C474.1,765.35 475.1,765.28 476.1,765.21 C477.1,765.15 478.1,765.08 479.1,765.02 C480.1,764.96 481.1,764.9 482.1,764.84 C483.1,764.78 484.1,764.72 485.1,764.67 C486.1,764.61 487.1,764.56 488.1,764.51 C489.1,764.46 490.1,764.41 491.1,764.37 C492.1,764.32 493.1,764.28 494.1,764.24 C495.1,764.2 496.1,764.16 497.1,764.13 C498.1,764.1 499.1,764.07 500.1,764.04 C501.1,764.01 502.1,763.99 503.1,763.97 C504.1,763.95 505.1,763.93 506.1,763.91 C507.1,763.9 508.1,763.89 509.1,763.88 C510.1,763.88 511.1,763.88 512.1,763.88 C513.1,763.88 514.1,763.89 515.1,763.9 C516.1,763.91 517.1,763.92 518.1,763.94 C519.1,763.96 520.1,763.98 521.1,764.01 C522.1,764.04 523.1,764.07 524.1,764.11 C525.1,764.15 526.1,764.19 527.1,764.24 C528.1,764.28 529.1,764.33 530.1,764.39 C531.1,764.45 532.1,764.51 533.1,764.58 C534.1,764.65 535.1,764.72 536.1,764.8 C537.1,764.88 538.1,764.97 539.1,765.06 C540.1,765.15 541.1,765.25 542.1,765.35 C543.1,765.46 544.1,765.57 545.1,765.68 C546.1,765.8 547.1,765.92 548.1,766.05 C549.1,766.18 550.1,766.31 551.1,766.45 C552.1,766.59 553.1,766.74 554.1,766.9 C555.1,767.05 556.1,767.21 557.1,767.38 C558.1,767.55 559.1,767.73 560.1,767.91 C561.1,768.1 562.1,768.29 563.1,768.49 C564.1,768.68 565.1,768.89 566.1,769.1 C567.1,769.32 568.1,769.54 569.1,769.77 C570.1,770 571.1,770.24 572.1,770.48 C573.1,770.73 574.1,770.98 575.1,771.24 C576.1,771.5 577.1,771.77 578.1,772.05 C579.1,772.33 580.1,772.62 581.1,772.92 C582.1,773.21 583.1,773.52 584.1,773.84 C585.1,774.16 586.1,774.49 587.1,774.83 C588.1,775.17 589.1,775.52 590.1,775.89 C591.1,776.26 592.1,776.64 593.1,777.04 C594.1,777.44 595.1,777.85 596.1,778.28 C597.1,778.71 598.1,779.15 599.1,779.62 C600.1,780.08 601.1,780.56 602.1,781.06 C603.1,781.56 604.1,782.08 605.1,782.62 C606.1,783.16 607.1,783.72 608.1,784.31 C609.1,784.89 610.1,785.5 611.1,786.12 C612.1,786.75 613.1,787.4 614.1,788.08 C615.1,788.76 616.1,789.46 617.1,790.18 C618.1,790.91 619.1,791.66 620.1,792.44 C621.1,793.22 622.1,794.03 623.1,794.87 C624.1,795.7 625.1,796.57 626.1,797.46 C627.1,798.36 628.1,799.28 629.1,800.24 C630.1,801.19 631.1,802.18 632.1,803.2 C633.1,804.22 634.1,805.27 635.1,806.36 C636.1,807.45 637.1,808.57 638.1,809.73 C639.1,810.89 640.1,812.08 641.1,813.32 C642.1,814.56 643.1,815.84 644.1,817.18 C645.1,818.52 646.1,819.9 647.1,821.34 C648.1,822.79 649.1,824.28 650.1,825.84 C651.1,827.4 652.1,829.02 653.1,830.71 C654.1,832.4 655.1,834.16 656.1,835.99 C657.1,837.82 658.12,839.76 659.1,841.71 C660.08,843.66 661.52,846.7 662,847.7" fill="none" stroke="#0000ff" stroke-width="2.94" stroke-dasharray="10.88,4.7" stroke-linecap="butt" stroke-linejoin="round" clip-path="url(#clipC)"/>
<path d="M149.5,823.11 C150,822.73 151.5,821.55 152.5,820.79 C153.5,820.03 154.5,819.28 155.5,818.54 C156.5,817.81 157.5,817.08 158.5,816.37 C159.5,815.66 160.5,814.96 161.5,814.27 C162.5,813.58 163.5,812.91 164.5,812.24 C165.5,811.58 166.5,810.93 167.5,810.29 C168.5,809.65 169.5,809.02 170.5,808.4 C171.5,807.78 172.5,807.18 173.5,806.58 C174.5,805.98 175.5,805.4 176.5,804.83 C177.5,804.25 178.5,803.69 179.5,803.14 C180.5,802.58 181.5,802.04 182.5,801.51 C183.5,800.98 184.5,800.46 185.5,799.94 C186.5,799.43 187.5,798.93 188.5,798.44 C189.5,797.95 190.5,797.46 191.5,796.99 C192.5,796.52 193.5,796.05 194.5,795.6 C195.5,795.14 196.5,794.7 197.5,794.26 C198.5,793.83 199.5,793.4 200.5,792.98 C201.5,792.56 202.5,792.15 203.5,791.75 C204.5,791.35 205.5,790.95 206.5,790.57 C207.5,790.18 208.5,789.81 209.5,789.44 C210.5,789.07 211.5,788.71 212.5,788.35 C213.5,788 214.5,787.65 215.5,787.31 C216.5,786.97 217.5,786.64 218.5,786.32 C219.5,785.99 220.5,785.68 221.5,785.37 C222.5,785.06 223.5,784.75 224.5,784.46 C225.5,784.16 226.5,783.87 227.5,783.59 C228.5,783.3 229.5,783.02 230.5,782.75 C231.5,782.48 232.5,782.22 233.5,781.96 C234.5,781.7 235.5,781.44 236.5,781.19 C237.5,780.95 238.5,780.7 239.5,780.46 C240.5,780.23 241.5,780 242.5,779.77 C243.5,779.54 244.5,779.32 245.5,779.1 C246.5,778.88 247.5,778.67 248.5,778.46 C249.5,778.26 250.5,778.05 251.5,777.85 C252.5,777.65 253.5,777.46 254.5,777.27 C255.5,777.08 256.5,776.89 257.5,776.71 C258.5,776.52 259.5,776.35 260.5,776.17 C261.5,776 262.5,775.82 263.5,775.66 C264.5,775.49 265.5,775.33 266.5,775.17 C267.5,775.01 268.5,774.85 269.5,774.7 C270.5,774.54 271.5,774.4 272.5,774.25 C273.5,774.1 274.5,773.96 275.5,773.82 C276.5,773.69 277.5,773.55 278.5,773.42 C279.5,773.29 280.5,773.16 281.5,773.03 C282.5,772.91 283.5,772.79 284.5,772.67 C285.5,772.55 286.5,772.44 287.5,772.32 C288.5,772.21 289.5,772.1 290.5,772 C291.5,771.89 292.5,771.79 293.5,771.69 C294.5,771.59 295.5,771.49 296.5,771.4 C297.5,771.3 298.5,771.21 299.5,771.12 C300.5,771.03 301.5,770.95 302.5,770.86 C303.5,770.78 304.5,770.7 305.5,770.62 C306.5,770.55 307.5,770.47 308.5,770.4 C309.5,770.33 310.5,770.26 311.5,770.19 C312.5,770.12 313.5,770.06 314.5,769.99 C315.5,769.93 316.5,769.87 317.5,769.81 C318.5,769.75 319.5,769.7 320.5,769.64 C321.5,769.59 322.5,769.54 323.5,769.49 C324.5,769.44 325.5,769.39 326.5,769.35 C327.5,769.3 328.5,769.26 329.5,769.22 C330.5,769.18 331.5,769.14 332.5,769.1 C333.5,769.06 334.5,769.03 335.5,768.99 C336.5,768.96 337.5,768.93 338.5,768.9 C339.5,768.87 340.5,768.84 341.5,768.81 C342.5,768.78 343.5,768.76 344.5,768.74 C345.5,768.71 346.5,768.69 347.5,768.67 C348.5,768.65 349.5,768.63 350.5,768.61 C351.5,768.59 352.5,768.58 353.5,768.56 C354.5,768.55 355.5,768.53 356.5,768.52 C357.5,768.51 358.5,768.49 359.5,768.48 C360.5,768.47 361.5,768.46 362.5,768.45 C363.5,768.45 364.5,768.44 365.5,768.43 C366.5,768.43 367.5,768.42 368.5,768.42 C369.5,768.41 370.5,768.41 371.5,768.4 C372.5,768.4 373.5,768.4 374.5,768.4 C375.5,768.4 376.5,768.39 377.5,768.39 C378.5,768.39 379.5,768.39 380.5,768.4 C381.5,768.4 382.5,768.4 383.5,768.4 C384.5,768.4 385.5,768.4 386.5,768.41 C387.5,768.41 388.5,768.41 389.5,768.42 C390.5,768.42 391.5,768.42 392.5,768.43 C393.5,768.43 394.5,768.43 395.5,768.44 C396.5,768.44 397.5,768.45 398.5,768.45 C399.5,768.45 400.5,768.46 401.5,768.46 C402.5,768.47 403.5,768.47 404.5,768.47 C405.5,768.48 406.5,768.48 407.5,768.49 C408.5,768.49 409.5,768.49 410.5,768.5 C411.5,768.5 412.5,768.5 413.5,768.51 C414.5,768.51 415.5,768.51 416.5,768.52 C417.5,768.52 418.5,768.52 419.5,768.53 C420.5,768.53 421.5,768.53 422.5,768.54 C423.5,768.54 424.5,768.54 425.5,768.55 C426.5,768.55 427.5,768.56 428.5,768.56 C429.5,768.57 430.5,768.57 431.5,768.58 C432.5,768.58 433.5,768.59 434.5,768.59 C435.5,768.6 436.5,768.61 437.5,768.61 C438.5,768.62 439.5,768.63 440.5,768.63 C441.5,768.64 442.5,768.65 443.5,768.66 C444.5,768.67 445.5,768.68 446.5,768.69 C447.5,768.7 448.5,768.71 449.5,768.72 C450.5,768.73 451.5,768.75 452.5,768.76 C453.5,768.77 454.5,768.79 455.5,768.8 C456.5,768.81 457.5,768.83 458.5,768.85 C459.5,768.86 460.5,768.88 461.5,768.9 C462.5,768.92 463.5,768.93 464.5,768.96 C465.5,768.98 466.5,769 467.5,769.02 C468.5,769.04 469.5,769.06 470.5,769.09 C471.5,769.11 472.5,769.14 473.5,769.16 C474.5,769.19 475.5,769.22 476.5,769.25 C477.5,769.28 478.5,769.31 479.5,769.34 C480.5,769.37 481.5,769.4 482.5,769.44 C483.5,769.47 484.5,769.51 485.5,769.54 C486.5,769.58 487.5,769.62 488.5,769.66 C489.5,769.7 490.5,769.74 491.5,769.78 C492.5,769.83 493.5,769.87 494.5,769.92 C495.5,769.96 496.5,770.01 497.5,770.06 C498.5,770.11 499.5,770.16 500.5,770.21 C501.5,770.26 502.5,770.32 503.5,770.37 C504.5,770.43 505.5,770.49 506.5,770.55 C507.5,770.61 508.5,770.67 509.5,770.73 C510.5,770.8 511.5,770.86 512.5,770.93 C513.5,771 514.5,771.07 515.5,771.14 C516.5,771.21 517.5,771.28 518.5,771.36 C519.5,771.43 520.5,771.51 521.5,771.59 C522.5,771.67 523.5,771.75 524.5,771.83 C525.5,771.92 526.5,772 527.5,772.09 C528.5,772.18 529.5,772.27 530.5,772.36 C531.5,772.46 532.5,772.55 533.5,772.65 C534.5,772.75 535.5,772.85 536.5,772.95 C537.5,773.05 538.5,773.16 539.5,773.26 C540.5,773.37 541.5,773.48 542.5,773.59 C543.5,773.71 544.5,773.82 545.5,773.94 C546.5,774.06 547.5,774.18 548.5,774.3 C549.5,774.42 550.5,774.55 551.5,774.68 C552.5,774.8 553.5,774.93 554.5,775.07 C555.5,775.2 556.5,775.34 557.5,775.48 C558.5,775.62 559.5,775.76 560.5,775.9 C561.5,776.05 562.5,776.2 563.5,776.35 C564.5,776.5 565.5,776.65 566.5,776.81 C567.5,776.97 568.5,777.13 569.5,777.29 C570.5,777.46 571.5,777.62 572.5,777.79 C573.5,777.96 574.5,778.14 575.5,778.32 C576.5,778.5 577.5,778.68 578.5,778.86 C579.5,779.05 580.5,779.24 581.5,779.43 C582.5,779.62 583.5,779.82 584.5,780.02 C585.5,780.22 586.5,780.43 587.5,780.64 C588.5,780.85 589.5,781.07 590.5,781.28 C591.5,781.5 592.5,781.73 593.5,781.95 C594.5,782.18 595.5,782.42 596.5,782.65 C597.5,782.89 598.5,783.13 599.5,783.38 C600.5,783.63 601.5,783.88 602.5,784.14 C603.5,784.39 604.5,784.66 605.5,784.92 C606.5,785.19 607.5,785.47 608.5,785.74 C609.5,786.02 610.5,786.31 611.5,786.6 C612.5,786.89 613.5,787.18 614.5,787.48 C615.5,787.78 616.5,788.09 617.5,788.4 C618.5,788.71 619.5,789.03 620.5,789.36 C621.5,789.68 622.5,790.01 623.5,790.35 C624.5,790.69 625.5,791.03 626.5,791.38 C627.5,791.73 628.5,792.09 629.5,792.45 C630.5,792.81 631.5,793.18 632.5,793.56 C633.5,793.93 634.5,794.31 635.5,794.7 C636.5,795.09 637.5,795.49 638.5,795.89 C639.5,796.3 640.5,796.71 641.5,797.12 C642.5,797.54 643.5,797.96 644.5,798.4 C645.5,798.83 646.5,799.27 647.5,799.72 C648.5,800.16 649.5,800.62 650.5,801.08 C651.5,801.54 652.5,802.01 653.5,802.49 C654.5,802.97 655.5,803.45 656.5,803.94 C657.5,804.44 658.58,804.98 659.5,805.45 C660.42,805.91 661.58,806.52 662,806.74" fill="none" stroke="#ffa500" stroke-width="2.94" stroke-dasharray="18.82,4.7,2.94,4.7" stroke-linecap="butt" stroke-linejoin="round" clip-path="url(#clipC)"/>
<line x1="336.6" y1="777.2" x2="336.6" y2="796.6" stroke="#008000" stroke-width="2.5" stroke-linecap="butt"/>
<line x1="331" y1="777.2" x2="342.2" y2="777.2" stroke="#008000" stroke-width="2.6" stroke-linecap="butt"/>
<line x1="331" y1="796.6" x2="342.2" y2="796.6" stroke="#008000" stroke-width="2.6" stroke-linecap="butt"/>
<circle cx="336.6" cy="786.7" r="5.75" fill="#008000"/>
<line x1="380.7" y1="752.9" x2="380.7" y2="779.2" stroke="#008000" stroke-width="2.5" stroke-linecap="butt"/>
<line x1="375.1" y1="752.9" x2="386.3" y2="752.9" stroke="#008000" stroke-width="2.6" stroke-linecap="butt"/>
<line x1="375.1" y1="779.2" x2="386.3" y2="779.2" stroke="#008000" stroke-width="2.6" stroke-linecap="butt"/>
<circle cx="380.7" cy="765.3" r="5.75" fill="#008000"/>
<circle cx="325.4" cy="832.4" r="5.75" fill="#008000"/>
<circle cx="321.3" cy="838.9" r="5.75" fill="#008000"/>
<circle cx="328.9" cy="843.5" r="5.75" fill="#008000"/>
<line x1="332.6" y1="850" x2="332.6" y2="861" stroke="#008000" stroke-width="2.5" stroke-linecap="butt"/>
<line x1="327" y1="850" x2="338.2" y2="850" stroke="#008000" stroke-width="2.6" stroke-linecap="butt"/>
<line x1="327" y1="861" x2="338.2" y2="861" stroke="#008000" stroke-width="2.6" stroke-linecap="butt"/>
<circle cx="332.6" cy="855.5" r="5.75" fill="#008000"/>
<circle cx="340.5" cy="832" r="5.75" fill="#008000"/>
<circle cx="340.5" cy="837" r="5.75" fill="#008000"/>
<circle cx="345" cy="831.5" r="5.75" fill="#008000"/>
<circle cx="345.5" cy="838.5" r="5.75" fill="#008000"/>
<circle cx="349.5" cy="831.5" r="5.75" fill="#008000"/>
<circle cx="350" cy="839" r="5.75" fill="#008000"/>
<circle cx="354.5" cy="831" r="5.75" fill="#008000"/>
<circle cx="355" cy="838.5" r="5.75" fill="#008000"/>
<circle cx="359.5" cy="831" r="5.75" fill="#008000"/>
<circle cx="360" cy="837.5" r="5.75" fill="#008000"/>
<circle cx="363.5" cy="831.5" r="5.75" fill="#008000"/>
<circle cx="363" cy="836" r="5.75" fill="#008000"/>
<line x1="368" y1="821" x2="368" y2="831" stroke="#008000" stroke-width="2.5" stroke-linecap="butt"/>
<line x1="362.4" y1="821" x2="373.6" y2="821" stroke="#008000" stroke-width="2.6" stroke-linecap="butt"/>
<line x1="362.4" y1="831" x2="373.6" y2="831" stroke="#008000" stroke-width="2.6" stroke-linecap="butt"/>
<circle cx="368" cy="826" r="5.75" fill="#008000"/>
<line x1="373.3" y1="815" x2="373.3" y2="825" stroke="#008000" stroke-width="2.5" stroke-linecap="butt"/>
<line x1="367.7" y1="815" x2="378.9" y2="815" stroke="#008000" stroke-width="2.6" stroke-linecap="butt"/>
<line x1="367.7" y1="825" x2="378.9" y2="825" stroke="#008000" stroke-width="2.6" stroke-linecap="butt"/>
<circle cx="373.3" cy="820" r="5.75" fill="#008000"/>
<circle cx="377" cy="814.3" r="5.75" fill="#008000"/>
<line x1="384.2" y1="823.4" x2="384.2" y2="833.4" stroke="#008000" stroke-width="2.5" stroke-linecap="butt"/>
<line x1="378.6" y1="823.4" x2="389.8" y2="823.4" stroke="#008000" stroke-width="2.6" stroke-linecap="butt"/>
<line x1="378.6" y1="833.4" x2="389.8" y2="833.4" stroke="#008000" stroke-width="2.6" stroke-linecap="butt"/>
<circle cx="384.2" cy="828.4" r="5.75" fill="#008000"/>
<line x1="281.4" y1="815.3" x2="281.4" y2="833.2" stroke="#0000ff" stroke-width="2.5" stroke-linecap="butt"/>
<line x1="275.6" y1="815.3" x2="287.2" y2="815.3" stroke="#0000ff" stroke-width="2.6" stroke-linecap="butt"/>
<line x1="275.6" y1="833.2" x2="287.2" y2="833.2" stroke="#0000ff" stroke-width="2.6" stroke-linecap="butt"/>
<rect x="202" y="864.7" width="12" height="12" fill="#0000ff"/>
<rect x="220.4" y="888" width="12" height="12" fill="#0000ff"/>
<rect x="238.7" y="812.7" width="12" height="12" fill="#0000ff"/>
<rect x="257.2" y="918.8" width="12" height="12" fill="#0000ff"/>
<rect x="275.4" y="817.8" width="12" height="12" fill="#0000ff"/>
<rect x="293.8" y="866.5" width="12" height="12" fill="#0000ff"/>
<rect x="312.1" y="883.7" width="12" height="12" fill="#0000ff"/>
<rect x="330.4" y="855.6" width="12" height="12" fill="#0000ff"/>
<rect x="348.8" y="877.3" width="12" height="12" fill="#0000ff"/>
<rect x="367.6" y="848.4" width="12" height="12" fill="#0000ff"/>
<rect x="385.3" y="850.4" width="12" height="12" fill="#0000ff"/>
<rect x="404" y="904.5" width="12" height="12" fill="#0000ff"/>
<rect x="422.4" y="856.1" width="12" height="12" fill="#0000ff"/>
<rect x="440.3" y="823" width="12" height="12" fill="#0000ff"/>
<rect x="459" y="830.6" width="12" height="12" fill="#0000ff"/>
<rect x="477.3" y="785.4" width="12" height="12" fill="#0000ff"/>
<rect x="495.6" y="823.6" width="12" height="12" fill="#0000ff"/>
<rect x="514.1" y="800.6" width="12" height="12" fill="#0000ff"/>
<rect x="532.6" y="837.6" width="12" height="12" fill="#0000ff"/>
<rect x="551" y="840" width="12" height="12" fill="#0000ff"/>
<rect x="569.2" y="872.4" width="12" height="12" fill="#0000ff"/>
<line x1="189.6" y1="845.8" x2="189.6" y2="850.6" stroke="#ffa500" stroke-width="2.5" stroke-linecap="butt"/>
<line x1="183.8" y1="845.8" x2="195.4" y2="845.8" stroke="#ffa500" stroke-width="2.6" stroke-linecap="butt"/>
<line x1="183.8" y1="850.6" x2="195.4" y2="850.6" stroke="#ffa500" stroke-width="2.6" stroke-linecap="butt"/>
<line x1="208" y1="854.9" x2="208" y2="864.5" stroke="#ffa500" stroke-width="2.5" stroke-linecap="butt"/>
<line x1="202.2" y1="854.9" x2="213.8" y2="854.9" stroke="#ffa500" stroke-width="2.6" stroke-linecap="butt"/>
<line x1="202.2" y1="864.5" x2="213.8" y2="864.5" stroke="#ffa500" stroke-width="2.6" stroke-linecap="butt"/>
<line x1="226.3" y1="929" x2="226.3" y2="933.8" stroke="#ffa500" stroke-width="2.5" stroke-linecap="butt"/>
<line x1="220.5" y1="929" x2="232.1" y2="929" stroke="#ffa500" stroke-width="2.6" stroke-linecap="butt"/>
<line x1="220.5" y1="933.8" x2="232.1" y2="933.8" stroke="#ffa500" stroke-width="2.6" stroke-linecap="butt"/>
<line x1="244.3" y1="885" x2="244.3" y2="889.8" stroke="#ffa500" stroke-width="2.5" stroke-linecap="butt"/>
<line x1="238.5" y1="885" x2="250.1" y2="885" stroke="#ffa500" stroke-width="2.6" stroke-linecap="butt"/>
<line x1="238.5" y1="889.8" x2="250.1" y2="889.8" stroke="#ffa500" stroke-width="2.6" stroke-linecap="butt"/>
<line x1="262.7" y1="842" x2="262.7" y2="846.8" stroke="#ffa500" stroke-width="2.5" stroke-linecap="butt"/>
<line x1="256.9" y1="842" x2="268.5" y2="842" stroke="#ffa500" stroke-width="2.6" stroke-linecap="butt"/>
<line x1="256.9" y1="846.8" x2="268.5" y2="846.8" stroke="#ffa500" stroke-width="2.6" stroke-linecap="butt"/>
<line x1="281.4" y1="835.9" x2="281.4" y2="840.7" stroke="#ffa500" stroke-width="2.5" stroke-linecap="butt"/>
<line x1="275.6" y1="835.9" x2="287.2" y2="835.9" stroke="#ffa500" stroke-width="2.6" stroke-linecap="butt"/>
<line x1="275.6" y1="840.7" x2="287.2" y2="840.7" stroke="#ffa500" stroke-width="2.6" stroke-linecap="butt"/>
<line x1="299.8" y1="883.5" x2="299.8" y2="888.3" stroke="#ffa500" stroke-width="2.5" stroke-linecap="butt"/>
<line x1="294" y1="883.5" x2="305.6" y2="883.5" stroke="#ffa500" stroke-width="2.6" stroke-linecap="butt"/>
<line x1="294" y1="888.3" x2="305.6" y2="888.3" stroke="#ffa500" stroke-width="2.6" stroke-linecap="butt"/>
<line x1="318" y1="875" x2="318" y2="879.8" stroke="#ffa500" stroke-width="2.5" stroke-linecap="butt"/>
<line x1="312.2" y1="875" x2="323.8" y2="875" stroke="#ffa500" stroke-width="2.6" stroke-linecap="butt"/>
<line x1="312.2" y1="879.8" x2="323.8" y2="879.8" stroke="#ffa500" stroke-width="2.6" stroke-linecap="butt"/>
<line x1="336.4" y1="901.5" x2="336.4" y2="906.3" stroke="#ffa500" stroke-width="2.5" stroke-linecap="butt"/>
<line x1="330.6" y1="901.5" x2="342.2" y2="901.5" stroke="#ffa500" stroke-width="2.6" stroke-linecap="butt"/>
<line x1="330.6" y1="906.3" x2="342.2" y2="906.3" stroke="#ffa500" stroke-width="2.6" stroke-linecap="butt"/>
<line x1="354.8" y1="859.5" x2="354.8" y2="864.3" stroke="#ffa500" stroke-width="2.5" stroke-linecap="butt"/>
<line x1="349" y1="859.5" x2="360.6" y2="859.5" stroke="#ffa500" stroke-width="2.6" stroke-linecap="butt"/>
<line x1="349" y1="864.3" x2="360.6" y2="864.3" stroke="#ffa500" stroke-width="2.6" stroke-linecap="butt"/>
<line x1="391.5" y1="840.9" x2="391.5" y2="852.9" stroke="#ffa500" stroke-width="2.5" stroke-linecap="butt"/>
<line x1="385.7" y1="840.9" x2="397.3" y2="840.9" stroke="#ffa500" stroke-width="2.6" stroke-linecap="butt"/>
<line x1="385.7" y1="852.9" x2="397.3" y2="852.9" stroke="#ffa500" stroke-width="2.6" stroke-linecap="butt"/>
<line x1="409.8" y1="837.5" x2="409.8" y2="842.3" stroke="#ffa500" stroke-width="2.5" stroke-linecap="butt"/>
<line x1="404" y1="837.5" x2="415.6" y2="837.5" stroke="#ffa500" stroke-width="2.6" stroke-linecap="butt"/>
<line x1="404" y1="842.3" x2="415.6" y2="842.3" stroke="#ffa500" stroke-width="2.6" stroke-linecap="butt"/>
<line x1="428.2" y1="799" x2="428.2" y2="803.8" stroke="#ffa500" stroke-width="2.5" stroke-linecap="butt"/>
<line x1="422.4" y1="799" x2="434" y2="799" stroke="#ffa500" stroke-width="2.6" stroke-linecap="butt"/>
<line x1="422.4" y1="803.8" x2="434" y2="803.8" stroke="#ffa500" stroke-width="2.6" stroke-linecap="butt"/>
<line x1="446.6" y1="819" x2="446.6" y2="823.8" stroke="#ffa500" stroke-width="2.5" stroke-linecap="butt"/>
<line x1="440.8" y1="819" x2="452.4" y2="819" stroke="#ffa500" stroke-width="2.6" stroke-linecap="butt"/>
<line x1="440.8" y1="823.8" x2="452.4" y2="823.8" stroke="#ffa500" stroke-width="2.6" stroke-linecap="butt"/>
<line x1="519.7" y1="831" x2="519.7" y2="835.8" stroke="#ffa500" stroke-width="2.5" stroke-linecap="butt"/>
<line x1="513.9" y1="831" x2="525.5" y2="831" stroke="#ffa500" stroke-width="2.6" stroke-linecap="butt"/>
<line x1="513.9" y1="835.8" x2="525.5" y2="835.8" stroke="#ffa500" stroke-width="2.6" stroke-linecap="butt"/>
<line x1="575.2" y1="855" x2="575.2" y2="859.8" stroke="#ffa500" stroke-width="2.5" stroke-linecap="butt"/>
<line x1="569.4" y1="855" x2="581" y2="855" stroke="#ffa500" stroke-width="2.6" stroke-linecap="butt"/>
<line x1="569.4" y1="859.8" x2="581" y2="859.8" stroke="#ffa500" stroke-width="2.6" stroke-linecap="butt"/>
<line x1="593.6" y1="805" x2="593.6" y2="809.8" stroke="#ffa500" stroke-width="2.5" stroke-linecap="butt"/>
<line x1="587.8" y1="805" x2="599.4" y2="805" stroke="#ffa500" stroke-width="2.6" stroke-linecap="butt"/>
<line x1="587.8" y1="809.8" x2="599.4" y2="809.8" stroke="#ffa500" stroke-width="2.6" stroke-linecap="butt"/>
<line x1="612" y1="863" x2="612" y2="867.8" stroke="#ffa500" stroke-width="2.5" stroke-linecap="butt"/>
<line x1="606.2" y1="863" x2="617.8" y2="863" stroke="#ffa500" stroke-width="2.6" stroke-linecap="butt"/>
<line x1="606.2" y1="867.8" x2="617.8" y2="867.8" stroke="#ffa500" stroke-width="2.6" stroke-linecap="butt"/>
<line x1="648.3" y1="830" x2="648.3" y2="834.8" stroke="#ffa500" stroke-width="2.5" stroke-linecap="butt"/>
<line x1="642.5" y1="830" x2="654.1" y2="830" stroke="#ffa500" stroke-width="2.6" stroke-linecap="butt"/>
<line x1="642.5" y1="834.8" x2="654.1" y2="834.8" stroke="#ffa500" stroke-width="2.6" stroke-linecap="butt"/>
<line x1="483.3" y1="891.3" x2="483.3" y2="913.1" stroke="#ffa500" stroke-width="2.5" stroke-linecap="butt"/>
<line x1="477.3" y1="891.3" x2="489.3" y2="891.3" stroke="#ffa500" stroke-width="2.6" stroke-linecap="butt"/>
<line x1="477.3" y1="913.1" x2="489.3" y2="913.1" stroke="#ffa500" stroke-width="2.6" stroke-linecap="butt"/>
<line x1="501.8" y1="755.2" x2="501.8" y2="822" stroke="#ffa500" stroke-width="2.5" stroke-linecap="butt"/>
<line x1="495.8" y1="755.2" x2="507.8" y2="755.2" stroke="#ffa500" stroke-width="2.6" stroke-linecap="butt"/>
<line x1="495.8" y1="822" x2="507.8" y2="822" stroke="#ffa500" stroke-width="2.6" stroke-linecap="butt"/>
<line x1="630.3" y1="1010" x2="630.3" y2="1065" stroke="#ffa500" stroke-width="2.5" stroke-linecap="butt"/>
<line x1="624.7" y1="1010" x2="635.9" y2="1010" stroke="#ffa500" stroke-width="2.6" stroke-linecap="butt"/>
<line x1="624.7" y1="1065" x2="635.9" y2="1065" stroke="#ffa500" stroke-width="2.6" stroke-linecap="butt"/>
<path d="M189.6,840.8 L183.1,853.8 L196.1,853.8 Z" fill="#ffa500"/>
<path d="M208,852.3 L201.5,865.3 L214.5,865.3 Z" fill="#ffa500"/>
<path d="M226.3,924 L219.8,937 L232.8,937 Z" fill="#ffa500"/>
<path d="M244.3,880 L237.8,893 L250.8,893 Z" fill="#ffa500"/>
<path d="M262.7,837 L256.2,850 L269.2,850 Z" fill="#ffa500"/>
<path d="M281.4,830.9 L274.9,843.9 L287.9,843.9 Z" fill="#ffa500"/>
<path d="M299.8,878.5 L293.3,891.5 L306.3,891.5 Z" fill="#ffa500"/>
<path d="M318,870 L311.5,883 L324.5,883 Z" fill="#ffa500"/>
<path d="M336.4,896.5 L329.9,909.5 L342.9,909.5 Z" fill="#ffa500"/>
<path d="M354.8,854.5 L348.3,867.5 L361.3,867.5 Z" fill="#ffa500"/>
<path d="M373.4,827 L366.9,840 L379.9,840 Z" fill="#ffa500"/>
<path d="M391.5,839.5 L385,852.5 L398,852.5 Z" fill="#ffa500"/>
<path d="M409.8,832.5 L403.3,845.5 L416.3,845.5 Z" fill="#ffa500"/>
<path d="M428.2,794 L421.7,807 L434.7,807 Z" fill="#ffa500"/>
<path d="M446.6,814 L440.1,827 L453.1,827 Z" fill="#ffa500"/>
<path d="M464.8,827 L458.3,840 L471.3,840 Z" fill="#ffa500"/>
<path d="M483.3,895.5 L476.8,908.5 L489.8,908.5 Z" fill="#ffa500"/>
<path d="M501.8,775 L495.3,788 L508.3,788 Z" fill="#ffa500"/>
<path d="M519.7,826 L513.2,839 L526.2,839 Z" fill="#ffa500"/>
<path d="M538.4,835 L531.9,848 L544.9,848 Z" fill="#ffa500"/>
<path d="M556.8,836.5 L550.3,849.5 L563.3,849.5 Z" fill="#ffa500"/>
<path d="M575.2,850 L568.7,863 L581.7,863 Z" fill="#ffa500"/>
<path d="M593.6,800 L587.1,813 L600.1,813 Z" fill="#ffa500"/>
<path d="M612,858 L605.5,871 L618.5,871 Z" fill="#ffa500"/>
<path d="M630.3,1027.5 L623.8,1040.5 L636.8,1040.5 Z" fill="#ffa500"/>
<path d="M648.3,825 L641.8,838 L654.8,838 Z" fill="#ffa500"/>
<line x1="146.5" y1="1117.8" x2="146.5" y2="1128.2" stroke="#000" stroke-width="2.3" stroke-linecap="butt"/>
<line x1="219.93" y1="1117.8" x2="219.93" y2="1128.2" stroke="#000" stroke-width="2.3" stroke-linecap="butt"/>
<line x1="293.36" y1="1117.8" x2="293.36" y2="1128.2" stroke="#000" stroke-width="2.3" stroke-linecap="butt"/>
<line x1="366.78" y1="1117.8" x2="366.78" y2="1128.2" stroke="#000" stroke-width="2.3" stroke-linecap="butt"/>
<line x1="440.21" y1="1117.8" x2="440.21" y2="1128.2" stroke="#000" stroke-width="2.3" stroke-linecap="butt"/>
<line x1="513.64" y1="1117.8" x2="513.64" y2="1128.2" stroke="#000" stroke-width="2.3" stroke-linecap="butt"/>
<line x1="587.07" y1="1117.8" x2="587.07" y2="1128.2" stroke="#000" stroke-width="2.3" stroke-linecap="butt"/>
<line x1="660.5" y1="1117.8" x2="660.5" y2="1128.2" stroke="#000" stroke-width="2.3" stroke-linecap="butt"/>
<line x1="136.15" y1="1118.1" x2="146.55" y2="1118.1" stroke="#000" stroke-width="2.3" stroke-linecap="butt"/>
<line x1="140.65" y1="1058.01" x2="146.55" y2="1058.01" stroke="#000" stroke-width="1.7" stroke-linecap="butt"/>
<line x1="140.65" y1="1022.87" x2="146.55" y2="1022.87" stroke="#000" stroke-width="1.7" stroke-linecap="butt"/>
<line x1="140.65" y1="997.93" x2="146.55" y2="997.93" stroke="#000" stroke-width="1.7" stroke-linecap="butt"/>
<line x1="140.65" y1="978.59" x2="146.55" y2="978.59" stroke="#000" stroke-width="1.7" stroke-linecap="butt"/>
<line x1="140.65" y1="962.78" x2="146.55" y2="962.78" stroke="#000" stroke-width="1.7" stroke-linecap="butt"/>
<line x1="140.65" y1="949.42" x2="146.55" y2="949.42" stroke="#000" stroke-width="1.7" stroke-linecap="butt"/>
<line x1="140.65" y1="937.84" x2="146.55" y2="937.84" stroke="#000" stroke-width="1.7" stroke-linecap="butt"/>
<line x1="140.65" y1="927.63" x2="146.55" y2="927.63" stroke="#000" stroke-width="1.7" stroke-linecap="butt"/>
<line x1="136.15" y1="918.5" x2="146.55" y2="918.5" stroke="#000" stroke-width="2.3" stroke-linecap="butt"/>
<line x1="140.65" y1="858.41" x2="146.55" y2="858.41" stroke="#000" stroke-width="1.7" stroke-linecap="butt"/>
<line x1="140.65" y1="823.27" x2="146.55" y2="823.27" stroke="#000" stroke-width="1.7" stroke-linecap="butt"/>
<line x1="140.65" y1="798.33" x2="146.55" y2="798.33" stroke="#000" stroke-width="1.7" stroke-linecap="butt"/>
<line x1="140.65" y1="778.99" x2="146.55" y2="778.99" stroke="#000" stroke-width="1.7" stroke-linecap="butt"/>
<line x1="140.65" y1="763.18" x2="146.55" y2="763.18" stroke="#000" stroke-width="1.7" stroke-linecap="butt"/>
<line x1="140.65" y1="749.82" x2="146.55" y2="749.82" stroke="#000" stroke-width="1.7" stroke-linecap="butt"/>
<line x1="140.65" y1="738.24" x2="146.55" y2="738.24" stroke="#000" stroke-width="1.7" stroke-linecap="butt"/>
<line x1="140.65" y1="728.03" x2="146.55" y2="728.03" stroke="#000" stroke-width="1.7" stroke-linecap="butt"/>
<line x1="136.15" y1="718.9" x2="146.55" y2="718.9" stroke="#000" stroke-width="2.3" stroke-linecap="butt"/>
<rect x="146.55" y="718.9" width="514.45" height="398.9" fill="none" stroke="#000" stroke-width="2.3"/>
<g transform="translate(146.50,1155.40)" stroke="#000" stroke-width="0.3" style="filter:grayscale(1)"><text transform="translate(-24.71,0.08) scale(1.0541,1.0683)" font-size="22.70">0</text><text transform="translate(-10.64,0.00) scale(1.0821,1.1598)" font-size="22.70">.</text><text transform="translate(-3.05,0.00) scale(1.0543,1.0596)" font-size="22.70">4</text><text transform="translate(11.16,0.08) scale(1.0910,1.0683)" font-size="22.70">6</text></g>
<g transform="translate(219.93,1155.40)" stroke="#000" stroke-width="0.3" style="filter:grayscale(1)"><text transform="translate(-24.71,0.08) scale(1.0541,1.0683)" font-size="22.70">0</text><text transform="translate(-10.64,0.00) scale(1.0821,1.1598)" font-size="22.70">.</text><text transform="translate(-3.05,0.00) scale(1.0543,1.0596)" font-size="22.70">4</text><text transform="translate(11.32,0.08) scale(1.0656,1.0683)" font-size="22.70">8</text></g>
<g transform="translate(293.36,1155.40)" stroke="#000" stroke-width="0.3" style="filter:grayscale(1)"><text transform="translate(-24.71,0.08) scale(1.0541,1.0683)" font-size="22.70">0</text><text transform="translate(-10.64,0.00) scale(1.0821,1.1598)" font-size="22.70">.</text><text transform="translate(-2.77,0.09) scale(0.9949,1.0651)" font-size="22.70">5</text><text transform="translate(11.39,0.08) scale(1.0541,1.0683)" font-size="22.70">0</text></g>
<g transform="translate(366.78,1155.40)" stroke="#000" stroke-width="0.3" style="filter:grayscale(1)"><text transform="translate(-24.71,0.08) scale(1.0541,1.0683)" font-size="22.70">0</text><text transform="translate(-10.64,0.00) scale(1.0821,1.1598)" font-size="22.70">.</text><text transform="translate(-2.77,0.09) scale(0.9949,1.0651)" font-size="22.70">5</text><text transform="translate(11.33,0.00) scale(1.0161,1.0629)" font-size="22.70">2</text></g>
<g transform="translate(440.21,1155.40)" stroke="#000" stroke-width="0.3" style="filter:grayscale(1)"><text transform="translate(-24.71,0.08) scale(1.0541,1.0683)" font-size="22.70">0</text><text transform="translate(-10.64,0.00) scale(1.0821,1.1598)" font-size="22.70">.</text><text transform="translate(-2.77,0.09) scale(0.9949,1.0651)" font-size="22.70">5</text><text transform="translate(11.39,0.00) scale(1.0543,1.0596)" font-size="22.70">4</text></g>
<g transform="translate(513.64,1155.40)" stroke="#000" stroke-width="0.3" style="filter:grayscale(1)"><text transform="translate(-24.71,0.08) scale(1.0541,1.0683)" font-size="22.70">0</text><text transform="translate(-10.64,0.00) scale(1.0821,1.1598)" font-size="22.70">.</text><text transform="translate(-2.77,0.09) scale(0.9949,1.0651)" font-size="22.70">5</text><text transform="translate(11.16,0.08) scale(1.0910,1.0683)" font-size="22.70">6</text></g>
<g transform="translate(587.07,1155.40)" stroke="#000" stroke-width="0.3" style="filter:grayscale(1)"><text transform="translate(-24.71,0.08) scale(1.0541,1.0683)" font-size="22.70">0</text><text transform="translate(-10.64,0.00) scale(1.0821,1.1598)" font-size="22.70">.</text><text transform="translate(-2.77,0.09) scale(0.9949,1.0651)" font-size="22.70">5</text><text transform="translate(11.32,0.08) scale(1.0656,1.0683)" font-size="22.70">8</text></g>
<g transform="translate(660.50,1155.40)" stroke="#000" stroke-width="0.3" style="filter:grayscale(1)"><text transform="translate(-24.71,0.08) scale(1.0541,1.0683)" font-size="22.70">0</text><text transform="translate(-10.64,0.00) scale(1.0821,1.1598)" font-size="22.70">.</text><text transform="translate(-3.29,0.08) scale(1.0910,1.0683)" font-size="22.70">6</text><text transform="translate(11.39,0.08) scale(1.0541,1.0683)" font-size="22.70">0</text></g>
<g transform="translate(121.50,727.30)" stroke="#000" stroke-width="0.3" style="filter:grayscale(1)"><text transform="translate(-37.06,0.00) scale(1.0068,1.0596)" font-size="22.70">1</text><text transform="translate(-22.78,0.08) scale(1.0541,1.0683)" font-size="22.70">0</text><text transform="translate(-8.12,-8.80) scale(1.0068,1.0596)" font-size="15.89">1</text></g>
<g transform="translate(121.50,926.90)" stroke="#000" stroke-width="0.3" style="filter:grayscale(1)"><text transform="translate(-37.47,0.00) scale(1.0068,1.0596)" font-size="22.70">1</text><text transform="translate(-23.19,0.08) scale(1.0541,1.0683)" font-size="22.70">0</text><text transform="translate(-8.66,-8.75) scale(1.0541,1.0683)" font-size="15.89">0</text></g>
<g transform="translate(123.70,1125.50)" stroke="#000" stroke-width="0.3" style="filter:grayscale(1)"><text transform="translate(-50.40,0.00) scale(1.0068,1.0596)" font-size="22.70">1</text><text transform="translate(-36.12,0.08) scale(1.0541,1.0683)" font-size="22.70">0</text><text transform="translate(-21.31,-7.63) scale(1.2884,1.1644)" font-size="15.89">−</text><text transform="translate(-8.12,-8.80) scale(1.0068,1.0596)" font-size="15.89">1</text></g>
<rect x="155.8" y="1013.9" width="452.4" height="94.3" rx="3.8" ry="3.8" fill="#fff" fill-opacity="0.8" stroke="#cccccc" stroke-opacity="0.8" stroke-width="2.7"/>
<line x1="163.1" y1="1029.3" x2="201.4" y2="1029.3" stroke="#008000" stroke-width="2.94" stroke-linecap="square"/>
<line x1="163.1" y1="1058.8" x2="201.4" y2="1058.8" stroke="#0000ff" stroke-width="2.94" stroke-linecap="butt" stroke-dasharray="10.88,4.7"/>
<line x1="163.1" y1="1088.4" x2="201.4" y2="1088.4" stroke="#ffa500" stroke-width="2.94" stroke-linecap="butt" stroke-dasharray="18.82,4.7,2.94,4.7"/>
<g transform="translate(217.30,1036.00)" stroke="#000" stroke-width="0.3" style="filter:grayscale(1)"><text transform="translate(-1.07,-0.11) scale(0.9864,1.0441)" font-size="18.90">Φ</text><text transform="translate(14.22,3.12) scale(1.0995,1.0351)" font-size="13.23" font-style="italic">x</text><text transform="translate(26.81,-0.47) scale(1.2884,0.8758)" font-size="18.90">=</text><text transform="translate(45.95,0.07) scale(1.0541,1.0683)" font-size="18.90">0</text><text transform="translate(57.65,0.00) scale(1.0821,1.1598)" font-size="18.90">.</text><text transform="translate(64.21,0.07) scale(1.0124,1.0683)" font-size="18.90">3</text><text transform="translate(75.92,0.00) scale(1.0161,1.0629)" font-size="18.90">2</text><text transform="translate(93.82,0.00) scale(0.9971,1.0596)" font-size="18.90">M</text><text transform="translate(110.00,0.07) scale(1.0631,1.0481)" font-size="18.90">o</text><text transform="translate(121.53,0.07) scale(1.0869,1.0539)" font-size="18.90">d</text><text transform="translate(133.50,0.07) scale(1.0801,1.0481)" font-size="18.90">e</text><text transform="translate(145.42,0.00) scale(1.0222,1.0485)" font-size="18.90">l</text></g>
<g transform="translate(217.30,1066.00)" stroke="#000" stroke-width="0.3" style="filter:grayscale(1)"><text transform="translate(-1.07,-0.11) scale(0.9864,1.0441)" font-size="18.90">Φ</text><text transform="translate(14.22,3.12) scale(1.0995,1.0351)" font-size="13.23" font-style="italic">x</text><text transform="translate(26.81,-0.47) scale(1.2884,0.8758)" font-size="18.90">=</text><text transform="translate(45.95,0.07) scale(1.0541,1.0683)" font-size="18.90">0</text><text transform="translate(57.65,0.00) scale(1.0821,1.1598)" font-size="18.90">.</text><text transform="translate(64.21,0.07) scale(1.0124,1.0683)" font-size="18.90">3</text><text transform="translate(75.78,0.07) scale(1.0910,1.0683)" font-size="18.90">6</text><text transform="translate(93.82,0.00) scale(0.9971,1.0596)" font-size="18.90">M</text><text transform="translate(110.00,0.07) scale(1.0631,1.0481)" font-size="18.90">o</text><text transform="translate(121.53,0.07) scale(1.0869,1.0539)" font-size="18.90">d</text><text transform="translate(133.50,0.07) scale(1.0801,1.0481)" font-size="18.90">e</text><text transform="translate(145.42,0.00) scale(1.0222,1.0485)" font-size="18.90">l</text></g>
<g transform="translate(217.30,1095.50)" stroke="#000" stroke-width="0.3" style="filter:grayscale(1)"><text transform="translate(-1.07,-0.11) scale(0.9864,1.0441)" font-size="18.90">Φ</text><text transform="translate(14.22,3.12) scale(1.0995,1.0351)" font-size="13.23" font-style="italic">x</text><text transform="translate(26.81,-0.47) scale(1.2884,0.8758)" font-size="18.90">=</text><text transform="translate(45.95,0.07) scale(1.0541,1.0683)" font-size="18.90">0</text><text transform="translate(57.65,0.00) scale(1.0821,1.1598)" font-size="18.90">.</text><text transform="translate(63.96,0.00) scale(1.0543,1.0596)" font-size="18.90">4</text><text transform="translate(75.97,0.07) scale(1.0541,1.0683)" font-size="18.90">0</text><text transform="translate(93.82,0.00) scale(0.9971,1.0596)" font-size="18.90">M</text><text transform="translate(110.00,0.07) scale(1.0631,1.0481)" font-size="18.90">o</text><text transform="translate(121.53,0.07) scale(1.0869,1.0539)" font-size="18.90">d</text><text transform="translate(133.50,0.07) scale(1.0801,1.0481)" font-size="18.90">e</text><text transform="translate(145.42,0.00) scale(1.0222,1.0485)" font-size="18.90">l</text></g>
<line x1="425.4" y1="1019.7" x2="425.4" y2="1038.5" stroke="#008000" stroke-width="2.5" stroke-linecap="butt"/>
<line x1="419.6" y1="1019.7" x2="431.2" y2="1019.7" stroke="#008000" stroke-width="2.6" stroke-linecap="butt"/>
<line x1="419.6" y1="1038.5" x2="431.2" y2="1038.5" stroke="#008000" stroke-width="2.6" stroke-linecap="butt"/>
<circle cx="425.4" cy="1029.4" r="5.75" fill="#008000"/>
<line x1="425.4" y1="1050.1" x2="425.4" y2="1068.4" stroke="#0000ff" stroke-width="2.5" stroke-linecap="butt"/>
<line x1="419.6" y1="1050.1" x2="431.2" y2="1050.1" stroke="#0000ff" stroke-width="2.6" stroke-linecap="butt"/>
<line x1="419.6" y1="1068.4" x2="431.2" y2="1068.4" stroke="#0000ff" stroke-width="2.6" stroke-linecap="butt"/>
<rect x="419.5" y="1053.4" width="11.8" height="11.8" fill="#0000ff"/>
<line x1="425.4" y1="1079.2" x2="425.4" y2="1098.1" stroke="#ffa500" stroke-width="2.5" stroke-linecap="butt"/>
<line x1="419.6" y1="1079.2" x2="431.2" y2="1079.2" stroke="#ffa500" stroke-width="2.6" stroke-linecap="butt"/>
<line x1="419.6" y1="1098.1" x2="431.2" y2="1098.1" stroke="#ffa500" stroke-width="2.6" stroke-linecap="butt"/>
<path d="M425.4,1081.3 L419,1094.1 L431.8,1094.1 Z" fill="#ffa500"/>
<g transform="translate(459.30,1036.00)" stroke="#000" stroke-width="0.3" style="filter:grayscale(1)"><text transform="translate(-1.07,-0.11) scale(0.9864,1.0441)" font-size="18.90">Φ</text><text transform="translate(14.22,3.12) scale(1.0995,1.0351)" font-size="13.23" font-style="italic">x</text><text transform="translate(26.81,-0.47) scale(1.2884,0.8758)" font-size="18.90">=</text><text transform="translate(45.95,0.07) scale(1.0541,1.0683)" font-size="18.90">0</text><text transform="translate(57.65,0.00) scale(1.0821,1.1598)" font-size="18.90">.</text><text transform="translate(64.21,0.07) scale(1.0124,1.0683)" font-size="18.90">3</text><text transform="translate(75.92,0.00) scale(1.0161,1.0629)" font-size="18.90">2</text><text transform="translate(93.76,0.00) scale(1.0346,1.0596)" font-size="18.90">D</text><text transform="translate(108.46,0.07) scale(0.8992,1.0481)" font-size="18.90">a</text><text transform="translate(119.74,-0.16) scale(1.3365,1.0731)" font-size="18.90">t</text><text transform="translate(127.43,0.07) scale(0.8992,1.0481)" font-size="18.90">a</text></g>
<g transform="translate(459.30,1066.00)" stroke="#000" stroke-width="0.3" style="filter:grayscale(1)"><text transform="translate(-1.07,-0.11) scale(0.9864,1.0441)" font-size="18.90">Φ</text><text transform="translate(14.22,3.12) scale(1.0995,1.0351)" font-size="13.23" font-style="italic">x</text><text transform="translate(26.81,-0.47) scale(1.2884,0.8758)" font-size="18.90">=</text><text transform="translate(45.95,0.07) scale(1.0541,1.0683)" font-size="18.90">0</text><text transform="translate(57.65,0.00) scale(1.0821,1.1598)" font-size="18.90">.</text><text transform="translate(64.21,0.07) scale(1.0124,1.0683)" font-size="18.90">3</text><text transform="translate(75.78,0.07) scale(1.0910,1.0683)" font-size="18.90">6</text><text transform="translate(93.76,0.00) scale(1.0346,1.0596)" font-size="18.90">D</text><text transform="translate(108.46,0.07) scale(0.8992,1.0481)" font-size="18.90">a</text><text transform="translate(119.74,-0.16) scale(1.3365,1.0731)" font-size="18.90">t</text><text transform="translate(127.43,0.07) scale(0.8992,1.0481)" font-size="18.90">a</text></g>
<g transform="translate(459.30,1095.50)" stroke="#000" stroke-width="0.3" style="filter:grayscale(1)"><text transform="translate(-1.07,-0.11) scale(0.9864,1.0441)" font-size="18.90">Φ</text><text transform="translate(14.22,3.12) scale(1.0995,1.0351)" font-size="13.23" font-style="italic">x</text><text transform="translate(26.81,-0.47) scale(1.2884,0.8758)" font-size="18.90">=</text><text transform="translate(45.95,0.07) scale(1.0541,1.0683)" font-size="18.90">0</text><text transform="translate(57.65,0.00) scale(1.0821,1.1598)" font-size="18.90">.</text><text transform="translate(63.96,0.00) scale(1.0543,1.0596)" font-size="18.90">4</text><text transform="translate(75.97,0.07) scale(1.0541,1.0683)" font-size="18.90">0</text><text transform="translate(93.76,0.00) scale(1.0346,1.0596)" font-size="18.90">D</text><text transform="translate(108.46,0.07) scale(0.8992,1.0481)" font-size="18.90">a</text><text transform="translate(119.74,-0.16) scale(1.3365,1.0731)" font-size="18.90">t</text><text transform="translate(127.43,0.07) scale(0.8992,1.0481)" font-size="18.90">a</text></g>
<g transform="translate(51.70,918.80) rotate(-90)" stroke="#000" stroke-width="0.3" style="filter:grayscale(1)"><text transform="translate(-39.17,0.00) scale(1.0909,1.0596)" font-size="23.00" font-style="italic">T</text><text transform="translate(-23.32,3.77) scale(1.0068,1.0596)" font-size="16.10">1</text><text transform="translate(-4.90,-1.52) scale(0.8453,0.9560)" font-size="23.00">(</text><text transform="translate(3.53,0.16) scale(1.0945,1.0481)" font-size="23.00" font-style="italic">μ</text><text transform="translate(18.57,0.09) scale(0.9586,1.0509)" font-size="23.00">s</text><text transform="translate(31.65,-1.52) scale(0.8453,0.9560)" font-size="23.00">)</text></g>
<g transform="translate(402.90,1190.60)" stroke="#000" stroke-width="0.3" style="filter:grayscale(1)"><text transform="translate(-40.59,-0.13) scale(0.9864,1.0441)" font-size="23.00">Φ</text><text transform="translate(-22.20,3.77) scale(1.1091,1.0351)" font-size="16.10" font-style="italic">z</text><text transform="translate(-5.10,-1.52) scale(0.8453,0.9560)" font-size="23.00">(</text><text transform="translate(3.10,-0.13) scale(0.9864,1.0441)" font-size="23.00">Φ</text><text transform="translate(21.82,3.83) scale(1.0541,1.0683)" font-size="16.10">0</text><text transform="translate(34.03,-1.52) scale(0.8453,0.9560)" font-size="23.00">)</text></g>
<g transform="translate(0.40,750.00)" stroke="#000" stroke-width="0.3" style="filter:grayscale(1)"><text transform="translate(-1.49,-1.88) scale(0.8453,0.9560)" font-size="28.40">(</text><text transform="translate(9.00,0.11) scale(1.0034,1.0481)" font-size="28.40">c</text><text transform="translate(26.39,-1.88) scale(0.8453,0.9560)" font-size="28.40">)</text></g>
</svg>
</body></html>
